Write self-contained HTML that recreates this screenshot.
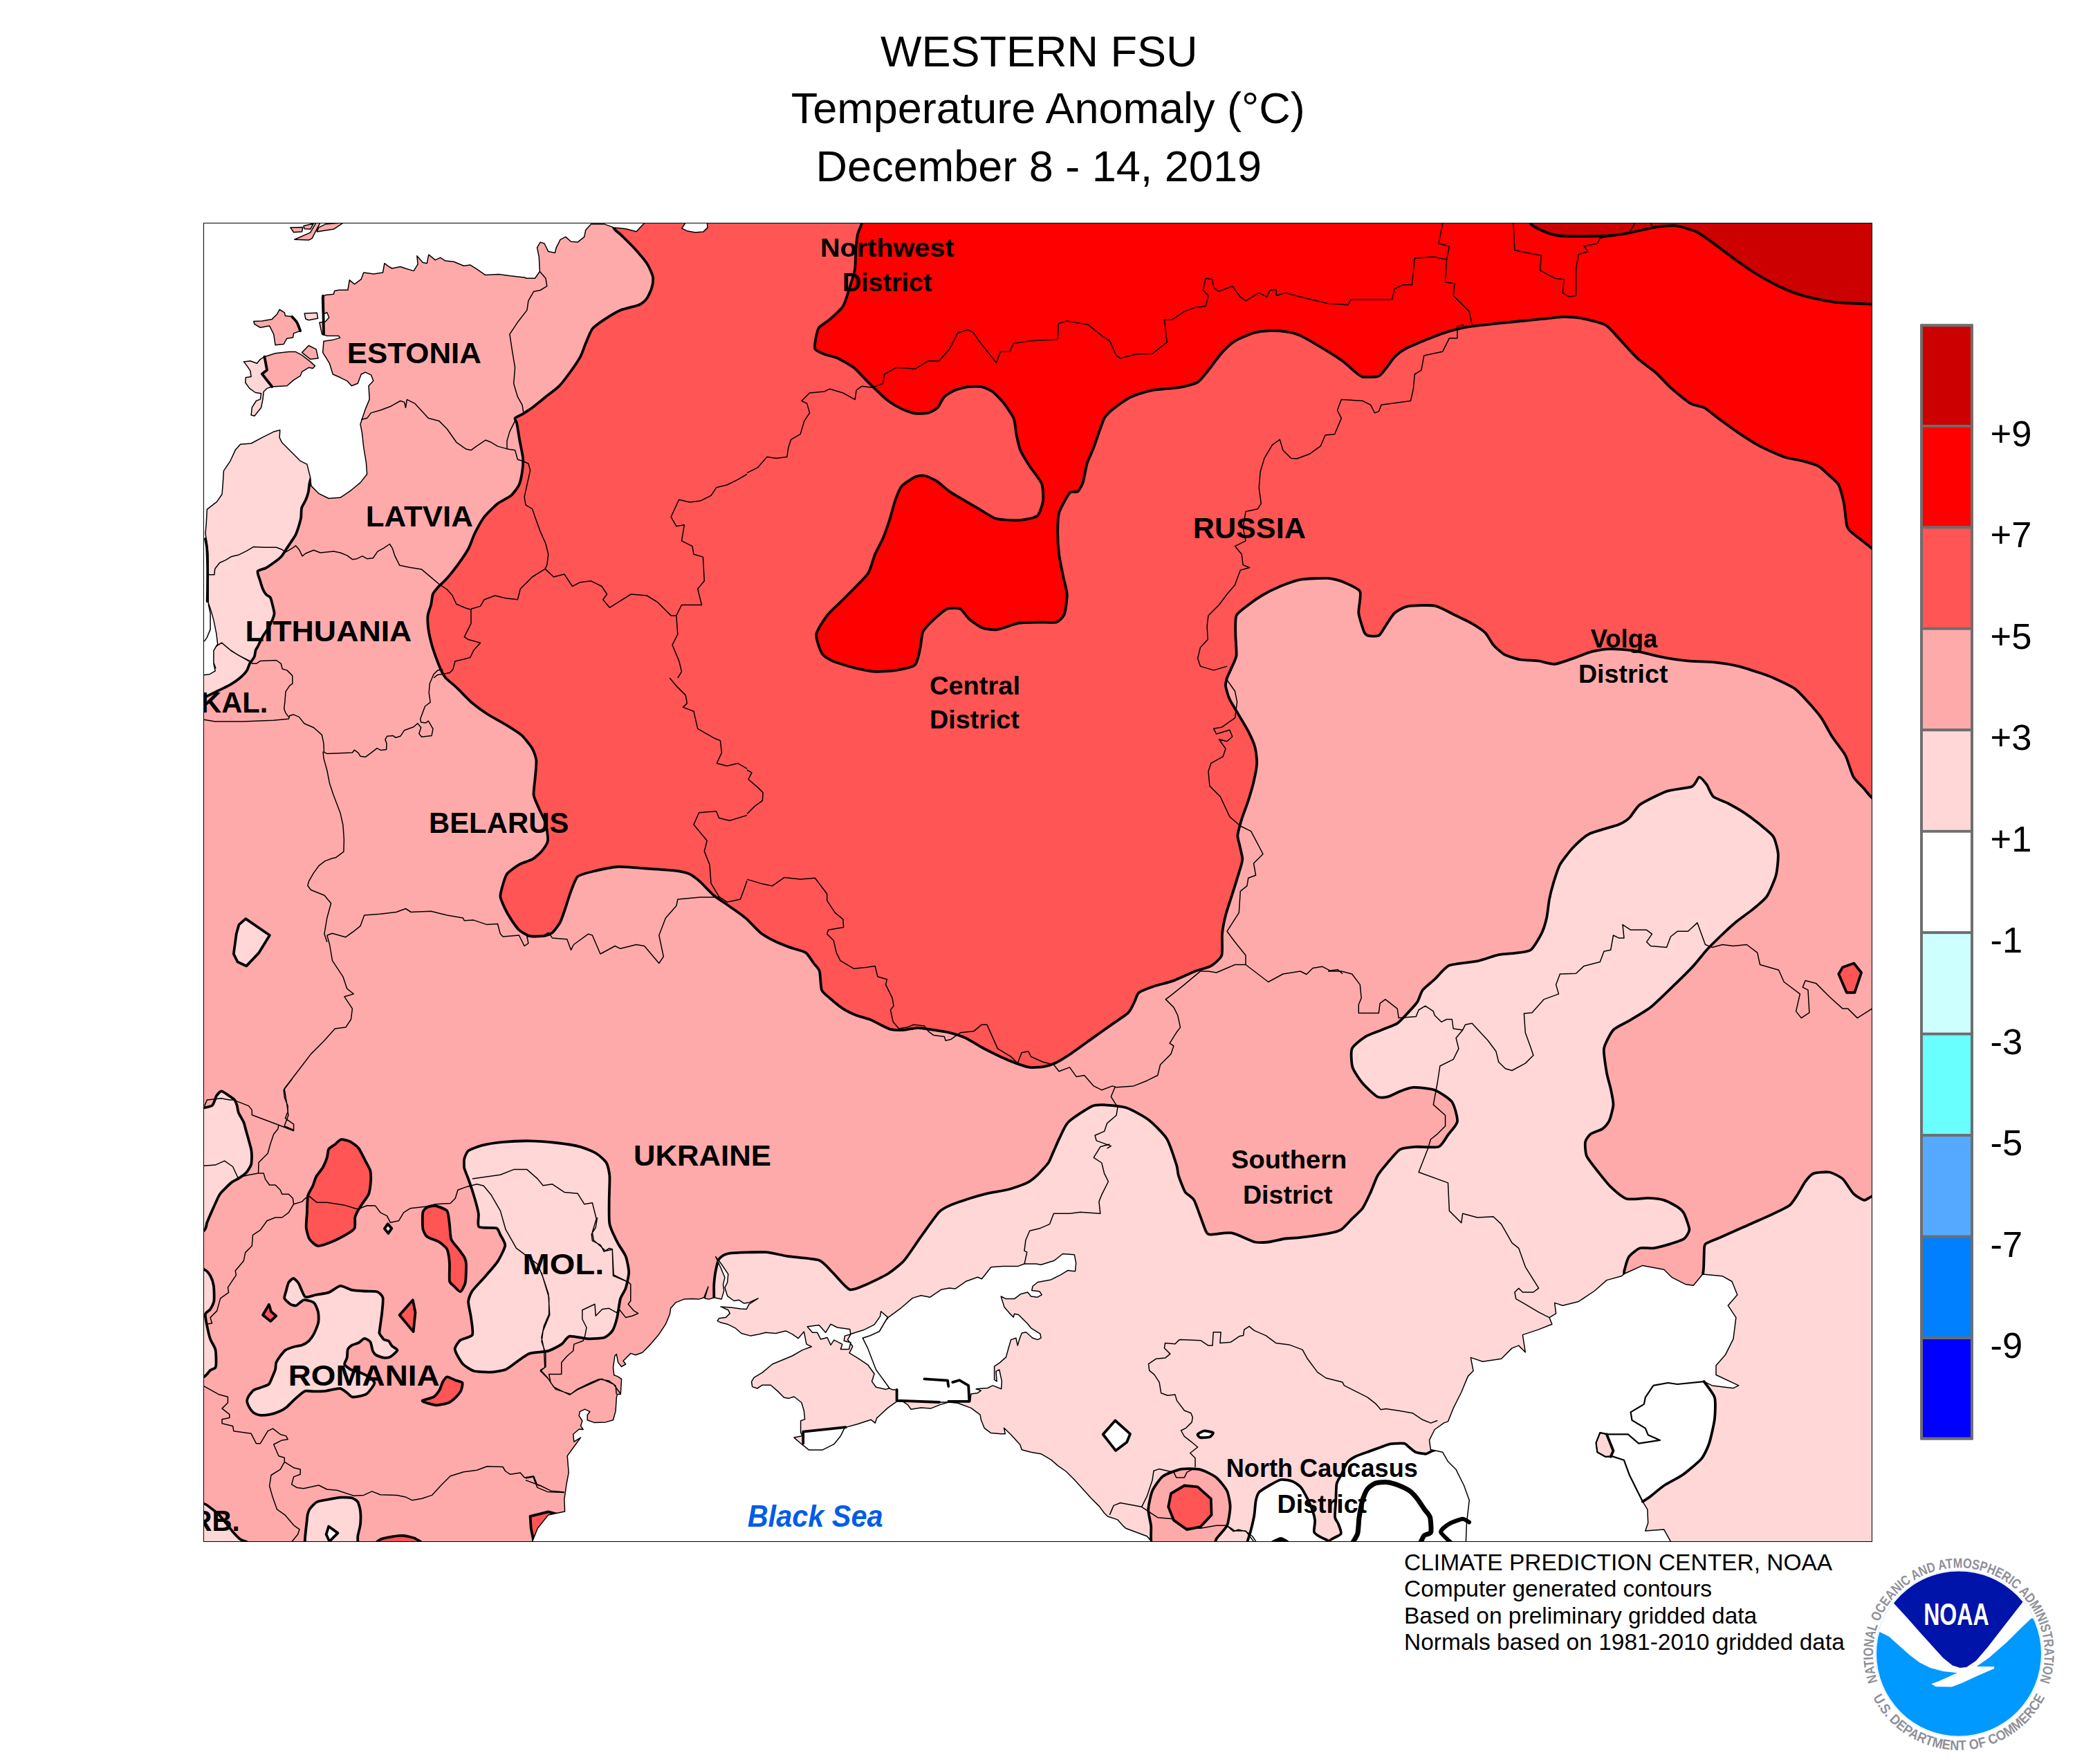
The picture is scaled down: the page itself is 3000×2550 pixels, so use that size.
<!DOCTYPE html>
<html><head><meta charset="utf-8"><title>Western FSU Temperature Anomaly</title>
<style>
html,body{margin:0;padding:0;background:#fff}
body{width:3000px;height:2550px;position:relative;overflow:hidden;font-family:"Liberation Sans",sans-serif;color:#000}
.t{position:absolute;left:0;width:3000px;text-align:center;font-size:63px;line-height:63px;white-space:nowrap}
.f{position:absolute;left:2030px;font-size:33.5px;line-height:38px;white-space:nowrap}
</style></head><body>
<svg width="3000" height="2550" viewBox="0 0 3000 2550" style="position:absolute;left:0;top:0">
<defs><clipPath id="fr"><rect x="294" y="322" width="2413" height="1907"/></clipPath></defs>
<g clip-path="url(#fr)">
<rect x="294" y="322" width="2412" height="1906" fill="#FFAAAA"/>
<path d="M881.4,292.3 C882.0,296.2 885.5,324.0 887.2,328.9 C888.9,333.8 893.8,335.5 896.9,338.6 C900.0,341.7 912.0,353.3 916.1,357.8 C920.2,362.3 932.4,376.5 935.4,381.0 C938.4,385.5 943.2,396.5 943.9,400.2 C944.6,403.9 943.3,412.4 942.4,415.7 C941.5,419.0 937.4,428.4 935.4,431.1 C933.4,433.8 928.0,438.9 923.9,440.7 C919.8,442.5 902.3,446.1 896.9,448.4 C891.5,450.7 878.0,459.0 873.7,461.9 C869.4,464.8 859.3,471.7 856.4,475.4 C853.5,479.1 848.6,492.3 846.7,496.6 C844.8,500.9 841.5,511.4 839.0,515.9 C836.5,520.4 826.9,534.5 823.6,539.0 C820.3,543.5 811.9,554.6 808.2,558.3 C804.5,562.0 793.0,570.4 788.9,573.7 C784.8,577.0 773.2,586.5 769.6,589.2 C766.0,591.9 757.7,597.2 755.0,598.8 C752.3,600.4 745.4,603.2 744.6,604.6 C743.8,606.0 746.6,609.0 747.3,612.3 C748.0,615.6 750.2,630.1 751.1,635.4 C752.0,640.7 755.7,657.5 756.1,662.4 C756.5,667.3 755.6,677.6 755.0,681.7 C754.4,685.8 752.1,697.3 750.4,701.0 C748.7,704.7 742.1,713.5 738.8,716.4 C735.5,719.3 723.6,724.7 719.5,728.0 C715.4,731.3 703.7,742.7 700.2,747.2 C696.7,751.7 689.2,765.5 686.7,770.4 C684.2,775.3 679.8,788.6 677.1,793.5 C674.4,798.4 665.0,812.1 661.7,816.6 C658.4,821.1 649.4,832.4 646.3,835.9 C643.2,839.4 635.0,846.9 632.8,849.4 C630.6,851.9 626.8,856.3 625.8,859.0 C624.8,861.7 623.9,871.2 623.1,874.5 C622.3,877.8 618.9,886.2 618.5,889.9 C618.1,893.6 618.7,904.7 619.3,909.2 C619.9,913.7 623.1,927.8 624.3,932.3 C625.5,936.8 629.3,947.5 630.8,951.6 C632.3,955.7 637.2,967.8 638.6,970.8 C640.0,973.8 641.8,977.4 644.3,980.0 C646.8,982.6 657.8,991.7 661.7,995.4 C665.6,999.1 676.5,1010.8 681.0,1014.7 C685.5,1018.6 698.8,1028.5 704.1,1032.0 C709.4,1035.5 725.8,1044.2 731.1,1047.5 C736.4,1050.8 750.1,1059.2 754.2,1062.9 C758.3,1066.6 767.3,1078.3 769.6,1082.2 C771.9,1086.1 775.0,1094.8 775.4,1099.5 C775.8,1104.2 773.9,1121.2 773.5,1126.5 C773.1,1131.8 771.0,1145.1 771.6,1149.6 C772.2,1154.1 777.5,1164.6 779.3,1168.9 C781.1,1173.2 787.5,1185.2 788.9,1190.1 C790.3,1195.0 792.6,1210.9 792.0,1215.2 C791.4,1219.5 785.5,1227.7 783.1,1230.6 C780.7,1233.5 773.1,1240.1 769.6,1242.2 C766.1,1244.3 754.3,1247.6 750.4,1249.9 C746.5,1252.2 735.5,1260.1 733.0,1263.4 C730.5,1266.7 727.5,1277.2 726.5,1280.7 C725.5,1284.2 723.1,1292.8 723.4,1296.1 C723.7,1299.4 727.6,1308.1 729.2,1311.6 C730.8,1315.1 736.5,1325.4 738.8,1328.9 C741.1,1332.4 747.5,1341.7 750.4,1344.3 C753.3,1346.9 762.1,1352.3 765.8,1353.2 C769.5,1354.1 781.6,1353.7 785.1,1353.2 C788.6,1352.7 795.9,1350.4 798.6,1348.2 C801.3,1346.0 808.1,1336.7 810.1,1332.8 C812.1,1328.9 816.2,1316.3 817.8,1311.6 C819.4,1306.9 823.6,1293.1 825.5,1288.4 C827.4,1283.7 831.7,1270.3 835.2,1267.2 C838.7,1264.1 852.1,1261.0 858.3,1259.5 C864.5,1258.0 884.8,1253.4 893.0,1253.0 C901.2,1252.6 926.8,1255.1 935.4,1255.7 C944.0,1256.3 967.4,1257.6 974.0,1258.4 C980.6,1259.2 993.0,1261.6 997.1,1263.4 C1001.2,1265.2 1008.8,1271.6 1012.5,1274.9 C1016.2,1278.2 1027.7,1290.7 1031.8,1294.2 C1035.9,1297.7 1047.0,1304.8 1051.1,1307.7 C1055.2,1310.6 1067.3,1318.9 1070.4,1321.2 C1073.5,1323.5 1076.9,1326.0 1080.0,1328.9 C1083.1,1331.8 1095.2,1344.9 1099.3,1348.2 C1103.4,1351.5 1114.1,1357.5 1118.6,1359.8 C1123.1,1362.1 1136.8,1367.6 1141.7,1369.4 C1146.6,1371.2 1161.1,1374.6 1164.8,1377.1 C1168.5,1379.6 1174.3,1389.6 1176.4,1392.5 C1178.5,1395.4 1183.7,1400.0 1184.9,1404.1 C1186.1,1408.2 1186.4,1427.0 1188.0,1431.1 C1189.6,1435.2 1196.2,1439.8 1199.5,1442.7 C1202.8,1445.6 1214.7,1455.4 1218.8,1458.1 C1222.9,1460.8 1234.0,1466.1 1238.1,1467.7 C1242.2,1469.3 1253.6,1472.1 1257.3,1473.5 C1261.0,1474.9 1269.5,1479.6 1272.8,1481.2 C1276.1,1482.8 1284.5,1487.3 1288.2,1488.1 C1291.9,1488.9 1303.4,1489.1 1307.5,1488.9 C1311.6,1488.7 1322.2,1485.8 1326.7,1485.8 C1331.2,1485.8 1345.0,1488.2 1349.9,1488.9 C1354.8,1489.6 1368.1,1491.6 1373.0,1492.8 C1377.9,1494.0 1391.2,1498.2 1396.1,1500.5 C1401.0,1502.8 1413.9,1511.1 1419.3,1514.0 C1424.7,1516.9 1441.0,1525.0 1446.3,1527.5 C1451.6,1530.0 1464.9,1535.5 1469.4,1537.1 C1473.9,1538.7 1484.6,1542.4 1488.7,1542.9 C1492.8,1543.4 1503.9,1542.8 1508.0,1542.1 C1512.1,1541.4 1522.7,1538.2 1527.2,1536.0 C1531.7,1533.8 1545.1,1525.3 1550.4,1521.7 C1555.7,1518.1 1571.6,1506.5 1577.3,1502.4 C1583.0,1498.3 1598.5,1487.2 1604.3,1483.1 C1610.1,1479.0 1627.4,1467.8 1631.3,1463.9 C1635.2,1460.0 1639.4,1449.6 1641.0,1446.5 C1642.6,1443.4 1643.6,1437.2 1646.7,1434.9 C1649.8,1432.6 1664.5,1427.1 1669.9,1425.3 C1675.3,1423.5 1690.7,1419.9 1696.9,1417.6 C1703.1,1415.3 1722.0,1406.4 1727.7,1404.1 C1733.4,1401.8 1746.7,1398.9 1750.8,1396.4 C1754.9,1393.9 1764.6,1385.9 1766.3,1381.0 C1768.0,1376.1 1766.4,1356.3 1767.0,1350.1 C1767.6,1343.9 1770.4,1329.3 1772.0,1323.1 C1773.6,1316.9 1779.6,1298.9 1781.7,1292.3 C1783.8,1285.7 1789.7,1266.7 1791.3,1261.4 C1792.9,1256.1 1796.2,1246.3 1796.3,1242.2 C1796.4,1238.1 1793.2,1226.6 1792.5,1222.9 C1791.8,1219.2 1789.1,1211.6 1789.4,1207.5 C1789.7,1203.4 1793.6,1189.7 1795.2,1184.3 C1796.8,1178.9 1803.0,1163.0 1804.8,1157.3 C1806.6,1151.6 1811.2,1136.1 1812.5,1130.4 C1813.8,1124.7 1817.0,1108.8 1817.2,1103.4 C1817.4,1098.0 1815.8,1085.1 1814.5,1080.2 C1813.2,1075.3 1807.3,1062.0 1804.8,1057.1 C1802.3,1052.2 1794.2,1038.9 1791.3,1034.0 C1788.4,1029.1 1779.9,1015.3 1777.8,1010.8 C1775.7,1006.3 1772.4,994.9 1772.0,991.6 C1771.6,988.3 1773.2,982.7 1774.0,980.1 C1774.8,977.5 1778.4,970.5 1779.8,967.0 C1781.2,963.5 1786.8,953.0 1787.5,947.7 C1788.2,942.4 1786.3,923.1 1786.3,916.9 C1786.3,910.7 1785.5,894.4 1787.5,889.9 C1789.5,885.4 1800.9,877.6 1804.8,874.5 C1808.7,871.4 1819.2,863.9 1824.1,861.0 C1829.0,858.1 1845.1,850.0 1851.1,847.5 C1857.1,845.0 1872.7,839.0 1880.0,837.8 C1887.3,836.6 1913.3,835.5 1920.0,835.9 C1926.7,836.3 1938.2,839.6 1943.1,841.7 C1948.0,843.8 1964.0,850.5 1966.3,855.2 C1968.6,859.9 1963.7,879.8 1964.3,886.0 C1964.9,892.2 1970.6,909.5 1972.0,913.0 C1973.4,916.5 1975.5,918.2 1977.8,918.8 C1980.1,919.4 1990.6,920.2 1993.3,918.8 C1996.0,917.4 2000.4,908.8 2002.9,905.3 C2005.4,901.8 2012.9,889.1 2016.4,886.0 C2019.9,882.9 2029.5,877.5 2035.7,876.4 C2041.9,875.3 2067.2,874.4 2074.2,875.6 C2081.2,876.8 2095.4,885.2 2101.2,888.0 C2107.0,890.8 2123.3,898.5 2128.2,901.4 C2133.1,904.3 2144.2,911.6 2147.5,914.9 C2150.8,918.2 2156.1,929.0 2159.0,932.3 C2161.9,935.6 2170.4,943.5 2174.5,945.8 C2178.6,948.1 2192.3,952.5 2197.6,953.5 C2202.9,954.5 2219.3,954.7 2224.6,955.4 C2229.9,956.1 2242.4,960.4 2247.7,960.0 C2253.0,959.6 2268.9,953.5 2274.7,951.6 C2280.5,949.7 2295.9,943.3 2301.7,941.9 C2307.5,940.5 2322.1,938.2 2328.7,938.1 C2335.3,938.0 2355.6,939.6 2363.4,940.8 C2371.2,942.0 2393.7,948.0 2401.9,949.6 C2410.1,951.2 2432.3,954.6 2440.5,955.4 C2448.7,956.2 2471.2,956.5 2479.0,957.3 C2486.8,958.1 2506.7,961.4 2513.7,963.1 C2520.7,964.8 2539.2,971.0 2544.6,972.8 C2550.0,974.6 2558.6,977.6 2563.9,980.0 C2569.2,982.4 2589.4,991.7 2594.7,995.4 C2600.0,999.1 2609.9,1010.2 2614.0,1014.7 C2618.1,1019.2 2629.6,1032.5 2633.3,1037.8 C2637.0,1043.1 2645.0,1059.0 2648.7,1064.8 C2652.4,1070.6 2664.7,1085.6 2668.0,1091.8 C2671.3,1098.0 2676.6,1117.6 2679.5,1122.7 C2682.4,1127.8 2692.0,1136.7 2694.9,1140.0 C2697.8,1143.3 2702.0,1149.2 2706.5,1153.5 C2711.0,1157.8 2734.0,1177.6 2737.3,1180.5 L2790.0,1200.0 L2790.0,240.0 L870.0,240.0Z" fill="#FF5555" stroke="#000" stroke-width="3.8" stroke-linejoin="round"/>
<path d="M1251.6,292.3 C1251.0,295.6 1247.0,318.2 1245.8,323.1 C1244.6,328.0 1240.9,334.5 1240.0,338.6 C1239.1,342.7 1237.7,356.4 1237.3,361.7 C1236.9,367.0 1237.0,382.9 1236.1,388.7 C1235.2,394.5 1230.2,409.9 1228.4,415.7 C1226.6,421.5 1221.9,437.8 1218.8,442.7 C1215.7,447.6 1203.2,458.6 1199.5,461.9 C1195.8,465.2 1186.2,470.6 1184.1,473.5 C1182.0,476.4 1180.1,485.6 1179.5,488.9 C1178.9,492.2 1177.0,501.8 1178.3,504.3 C1179.6,506.8 1188.3,510.6 1191.8,512.0 C1195.3,513.4 1206.6,515.7 1211.1,517.8 C1215.6,519.9 1230.1,528.2 1234.2,531.3 C1238.3,534.4 1246.3,543.4 1249.6,546.7 C1252.9,550.0 1261.4,558.7 1265.1,562.2 C1268.8,565.7 1280.2,576.4 1284.3,579.5 C1288.4,582.6 1299.5,589.2 1303.6,591.1 C1307.7,593.0 1318.8,597.0 1322.9,597.6 C1327.0,598.2 1338.7,597.8 1342.2,596.9 C1345.7,596.0 1353.2,591.7 1355.7,589.2 C1358.2,586.7 1362.6,576.4 1365.3,573.7 C1368.0,571.0 1377.0,565.7 1380.7,564.1 C1384.4,562.5 1395.9,559.6 1400.0,559.1 C1404.1,558.6 1415.6,558.4 1419.3,559.1 C1423.0,559.8 1431.4,563.6 1434.7,566.0 C1438.0,568.4 1446.8,577.3 1450.1,581.4 C1453.4,585.5 1463.4,599.7 1465.5,604.6 C1467.6,609.5 1468.4,622.8 1469.4,627.7 C1470.4,632.6 1473.1,645.9 1475.2,650.8 C1477.3,655.7 1485.4,668.9 1488.7,674.0 C1492.0,679.1 1503.9,693.7 1506.0,699.0 C1508.1,704.3 1508.6,719.2 1508.0,724.1 C1507.4,729.0 1503.1,742.4 1500.2,745.3 C1497.3,748.2 1485.1,750.4 1481.0,751.1 C1476.9,751.8 1466.2,752.1 1461.7,751.9 C1457.2,751.7 1443.5,750.9 1438.6,749.2 C1433.7,747.5 1420.3,738.6 1415.4,735.7 C1410.5,732.8 1396.8,724.9 1392.3,722.2 C1387.8,719.5 1377.1,713.5 1373.0,710.6 C1368.9,707.7 1357.6,697.7 1353.7,695.2 C1349.8,692.7 1339.7,688.1 1336.4,687.5 C1333.1,686.9 1326.4,687.8 1322.9,689.4 C1319.4,691.0 1306.7,699.2 1303.6,702.9 C1300.5,706.6 1295.8,719.0 1294.0,724.1 C1292.2,729.2 1288.2,745.3 1286.3,751.1 C1284.4,756.9 1278.9,772.8 1276.6,778.1 C1274.3,783.4 1267.4,795.9 1265.1,801.2 C1262.8,806.5 1258.7,822.9 1255.4,828.2 C1252.1,833.5 1238.5,846.8 1234.2,851.3 C1229.9,855.8 1219.0,866.5 1214.9,870.6 C1210.8,874.7 1199.4,885.0 1195.7,889.9 C1192.0,894.8 1181.0,911.1 1180.2,916.9 C1179.4,922.7 1185.5,939.8 1188.0,943.9 C1190.5,948.0 1198.5,953.1 1203.4,955.4 C1208.3,957.7 1227.6,963.5 1234.2,965.1 C1240.8,966.7 1258.5,970.4 1265.1,970.8 C1271.7,971.2 1289.7,969.9 1295.9,968.9 C1302.1,967.9 1319.2,964.7 1322.9,961.2 C1326.6,957.7 1329.4,941.2 1330.6,936.1 C1331.8,931.0 1332.4,917.3 1334.5,913.0 C1336.6,908.7 1346.2,899.2 1349.9,895.7 C1353.6,892.2 1365.1,881.9 1369.2,880.2 C1373.3,878.5 1385.1,878.8 1388.4,880.2 C1391.7,881.6 1396.7,890.8 1400.0,893.7 C1403.3,896.6 1415.0,905.4 1419.3,907.2 C1423.6,909.0 1434.7,911.0 1440.5,910.3 C1446.3,909.6 1466.5,901.9 1473.3,900.7 C1480.1,899.5 1498.4,899.6 1504.1,899.5 C1509.8,899.4 1523.5,900.7 1527.2,899.5 C1530.9,898.3 1537.1,892.3 1538.8,888.0 C1540.5,883.7 1542.9,865.0 1542.7,859.0 C1542.5,853.0 1538.1,838.2 1536.9,832.0 C1535.7,825.8 1531.9,807.8 1531.1,801.2 C1530.3,794.6 1529.2,776.8 1529.2,770.4 C1529.2,764.0 1529.3,747.6 1531.1,741.4 C1532.9,735.2 1543.6,715.8 1546.5,712.5 C1549.4,709.2 1556.0,712.2 1558.1,710.6 C1560.2,709.0 1564.4,701.4 1565.8,697.1 C1567.2,692.8 1570.0,675.4 1571.6,670.1 C1573.2,664.8 1578.5,654.0 1581.2,647.0 C1583.9,640.0 1593.3,610.8 1596.6,604.6 C1599.9,598.4 1607.9,592.5 1612.0,589.2 C1616.1,585.9 1629.4,576.4 1635.2,573.7 C1641.0,571.0 1658.6,565.5 1666.0,564.1 C1673.4,562.7 1697.6,561.4 1704.6,560.2 C1711.6,559.0 1727.1,555.2 1731.6,552.5 C1736.1,549.8 1743.3,539.7 1747.0,535.2 C1750.7,530.7 1762.2,514.6 1766.3,510.1 C1770.4,505.6 1780.6,495.9 1785.5,492.8 C1790.4,489.7 1807.1,482.8 1812.5,481.2 C1817.9,479.6 1830.8,478.3 1835.7,478.1 C1840.6,477.9 1854.1,478.6 1858.8,479.3 C1863.5,480.0 1873.5,482.0 1880.0,485.1 C1886.5,488.2 1913.3,504.1 1920.0,508.2 C1926.7,512.3 1939.0,520.5 1943.1,523.6 C1947.2,526.7 1955.7,534.8 1958.6,537.1 C1961.5,539.4 1966.4,544.1 1970.1,544.8 C1973.8,545.5 1989.6,545.1 1993.3,543.7 C1997.0,542.3 2002.3,534.3 2004.8,531.3 C2007.3,528.3 2013.5,518.8 2016.4,515.9 C2019.3,513.0 2026.9,507.0 2031.8,504.3 C2036.7,501.6 2056.1,493.5 2062.7,490.8 C2069.3,488.1 2086.5,481.3 2093.5,479.3 C2100.5,477.3 2117.9,473.1 2128.2,471.6 C2138.5,470.1 2179.2,466.1 2189.9,465.0 C2200.6,463.9 2221.0,461.9 2228.4,461.2 C2235.8,460.5 2253.1,458.2 2259.3,458.1 C2265.5,458.0 2279.7,458.8 2286.3,460.0 C2292.9,461.2 2315.3,466.5 2321.0,469.6 C2326.7,472.7 2335.3,483.8 2340.2,488.9 C2345.1,494.0 2361.4,512.5 2367.2,517.8 C2373.0,523.1 2388.9,534.3 2394.2,539.0 C2399.5,543.7 2412.0,557.5 2417.3,562.2 C2422.6,566.9 2439.4,580.5 2444.3,583.4 C2449.2,586.3 2459.1,586.7 2463.6,589.2 C2468.1,591.7 2481.4,602.6 2486.7,606.5 C2492.0,610.4 2507.5,621.7 2513.7,625.8 C2519.9,629.9 2537.6,641.4 2544.6,645.1 C2551.6,648.8 2572.7,658.2 2579.3,660.5 C2585.9,662.8 2601.0,664.9 2606.3,666.3 C2611.6,667.7 2625.3,671.7 2629.4,674.0 C2633.5,676.3 2641.7,684.6 2644.8,687.5 C2647.9,690.4 2656.0,696.7 2658.3,701.0 C2660.6,705.3 2664.8,721.8 2666.0,728.0 C2667.2,734.2 2668.9,754.5 2669.9,758.8 C2670.9,763.1 2671.8,764.8 2675.7,768.4 C2679.6,772.0 2699.9,787.6 2706.5,792.7 C2713.1,797.8 2734.0,814.1 2737.3,816.6 L2790.0,900.0 L2790.0,240.0 L1240.0,240.0Z" fill="#FF0000" stroke="#000" stroke-width="3.8" stroke-linejoin="round"/>
<path d="M2201.4,292.3 C2202.6,295.6 2210.1,318.8 2213.0,323.1 C2215.9,327.4 2224.3,330.9 2228.4,332.8 C2232.5,334.7 2245.0,339.6 2251.6,340.5 C2258.2,341.4 2281.9,341.6 2290.1,341.6 C2298.3,341.6 2321.7,341.0 2328.7,340.5 C2335.7,340.0 2349.1,337.8 2355.7,336.6 C2362.3,335.4 2383.4,330.0 2390.4,328.9 C2397.4,327.8 2414.6,325.6 2421.2,326.2 C2427.8,326.8 2446.2,332.2 2452.0,334.7 C2457.8,337.2 2469.4,346.0 2475.2,350.1 C2481.0,354.2 2499.4,368.6 2506.0,373.3 C2512.6,378.0 2529.9,390.2 2536.9,394.5 C2543.9,398.8 2564.2,410.2 2571.6,413.7 C2579.0,417.2 2597.7,424.7 2606.3,427.2 C2614.9,429.7 2641.8,435.6 2652.5,436.9 C2663.2,438.2 2696.2,439.2 2706.5,439.6 C2716.8,440.0 2744.4,440.6 2748.9,440.7 L2790.0,450.0 L2790.0,240.0 L2200.0,240.0Z" fill="#CD0000" stroke="#000" stroke-width="3.8" stroke-linejoin="round"/>
<path d="M453.5,678.6 C452.9,680.6 448.5,694.3 447.7,697.8 C446.9,701.3 446.4,708.6 445.8,711.3 C445.2,714.0 442.9,720.4 441.9,722.9 C440.9,725.4 436.8,731.8 436.1,734.5 C435.4,737.2 435.6,745.3 435.2,748.0 C434.8,750.7 433.1,756.8 432.3,759.5 C431.5,762.2 428.7,770.4 427.5,773.0 C426.3,775.6 422.2,781.2 420.7,783.6 C419.2,786.0 414.4,793.0 413.0,795.2 C411.6,797.4 409.0,801.9 407.2,803.9 C405.4,805.9 398.2,811.7 395.7,813.5 C393.2,815.3 386.6,819.9 384.1,821.2 C381.6,822.5 373.3,823.9 372.5,826.0 C371.7,828.1 375.6,837.7 376.4,840.5 C377.2,843.3 379.3,849.9 380.2,852.0 C381.1,854.1 384.0,858.6 385.1,859.8 C386.2,861.0 389.9,862.2 390.8,863.6 C391.7,865.0 393.1,870.8 393.7,873.3 C394.3,875.8 396.6,884.2 396.6,886.7 C396.6,889.2 394.6,894.1 393.7,896.4 C392.8,898.7 389.4,905.5 388.0,908.0 C386.6,910.5 381.9,916.6 380.2,919.5 C378.5,922.4 373.6,932.7 372.5,934.9 C371.4,937.1 370.1,938.4 369.6,940.0 C369.1,941.6 368.6,947.5 367.7,949.6 C366.8,951.7 362.1,957.2 361.0,959.3 C359.9,961.4 358.5,966.7 357.1,968.9 C355.7,971.1 350.0,977.3 347.5,979.5 C345.0,981.7 337.1,987.3 334.0,989.2 C330.9,991.1 321.7,995.4 318.6,996.9 C315.5,998.4 307.7,1002.4 305.1,1003.6 C302.5,1004.8 299.2,1006.5 294.5,1008.4 C289.8,1010.3 264.3,1019.7 260.7,1021.0 L240.0,1010.0 L240.0,590.0 L430.0,590.0 L475.0,650.0Z" fill="#FFD7D7" stroke="#000" stroke-width="3.8" stroke-linejoin="round"/>
<path d="M1032.3,1875.7 C1032.3,1873.6 1032.0,1860.5 1032.3,1856.4 C1032.6,1852.3 1033.9,1841.0 1034.7,1837.1 C1035.5,1833.2 1037.4,1822.9 1039.5,1820.2 C1041.6,1817.5 1046.8,1812.9 1054.0,1811.8 C1061.2,1810.7 1098.1,1809.7 1107.0,1810.1 C1115.9,1810.5 1129.6,1814.7 1137.8,1815.9 C1146.0,1817.1 1177.1,1819.2 1184.1,1821.7 C1191.1,1824.2 1198.7,1834.5 1203.4,1839.0 C1208.1,1843.5 1223.1,1862.2 1228.4,1864.1 C1233.7,1866.0 1247.5,1858.9 1253.5,1856.4 C1259.5,1853.9 1278.5,1844.7 1284.3,1841.0 C1290.1,1837.3 1302.6,1827.3 1307.5,1821.7 C1312.4,1816.1 1325.3,1796.3 1330.6,1788.9 C1335.9,1781.5 1353.1,1757.2 1357.6,1752.3 C1362.1,1747.4 1368.5,1744.8 1373.0,1742.7 C1377.5,1740.6 1394.2,1734.9 1400.0,1733.0 C1405.8,1731.1 1420.8,1726.7 1427.0,1725.3 C1433.2,1723.9 1451.6,1721.1 1457.8,1719.5 C1464.0,1717.9 1480.3,1712.2 1484.8,1709.9 C1489.3,1707.6 1496.9,1701.4 1500.2,1698.3 C1503.5,1695.2 1513.6,1683.9 1515.7,1681.0 C1517.8,1678.1 1518.6,1675.0 1520.3,1671.3 C1522.0,1667.6 1528.9,1651.2 1531.5,1645.9 C1534.1,1640.6 1539.6,1627.0 1544.6,1622.0 C1549.6,1617.0 1572.8,1601.8 1578.5,1599.2 C1584.2,1596.6 1592.4,1597.1 1597.8,1597.3 C1603.2,1597.5 1622.3,1599.2 1629.0,1601.5 C1635.7,1603.8 1654.0,1613.8 1660.2,1618.5 C1666.4,1623.2 1682.4,1638.9 1686.8,1645.9 C1691.2,1652.9 1699.3,1678.7 1701.1,1684.4 C1702.9,1690.1 1702.5,1695.0 1703.8,1699.1 C1705.1,1703.2 1711.0,1719.1 1713.4,1723.0 C1715.8,1726.9 1723.5,1729.5 1726.6,1735.3 C1729.7,1741.1 1740.0,1772.0 1742.4,1777.3 C1744.8,1782.6 1745.2,1784.2 1749.3,1784.7 C1753.4,1785.2 1773.9,1781.2 1780.9,1782.4 C1787.9,1783.6 1808.9,1794.1 1814.5,1795.5 C1820.1,1796.9 1829.1,1796.0 1833.7,1795.5 C1838.3,1795.0 1853.1,1791.2 1858.0,1790.5 C1862.9,1789.8 1873.4,1789.7 1880.0,1788.9 C1886.6,1788.1 1913.7,1784.3 1920.0,1783.1 C1926.3,1781.9 1935.6,1779.6 1939.3,1777.3 C1943.0,1775.0 1951.4,1765.2 1954.7,1761.9 C1958.0,1758.6 1967.2,1750.6 1970.1,1746.5 C1973.0,1742.4 1979.4,1728.3 1981.7,1723.4 C1984.0,1718.5 1989.0,1704.3 1991.3,1700.2 C1993.6,1696.1 1999.4,1688.9 2002.9,1684.8 C2006.4,1680.7 2019.4,1664.6 2024.1,1661.7 C2028.8,1658.8 2041.2,1658.2 2047.2,1657.8 C2053.2,1657.4 2075.1,1659.6 2080.0,1657.8 C2084.9,1656.0 2090.6,1644.4 2093.5,1640.5 C2096.4,1636.6 2106.4,1626.3 2107.0,1621.2 C2107.6,1616.1 2102.8,1597.9 2099.3,1593.0 C2095.8,1588.1 2080.2,1578.0 2074.2,1575.7 C2068.2,1573.4 2048.7,1571.6 2043.4,1571.8 C2038.1,1572.0 2028.0,1576.2 2024.1,1577.6 C2020.2,1579.0 2010.2,1584.5 2006.7,1585.3 C2003.2,1586.1 1995.2,1587.4 1991.3,1585.3 C1987.4,1583.2 1973.9,1570.5 1970.1,1566.0 C1966.3,1561.5 1957.1,1548.2 1955.5,1542.9 C1953.9,1537.6 1952.7,1520.6 1954.7,1515.9 C1956.7,1511.2 1969.5,1501.5 1974.0,1498.6 C1978.5,1495.7 1992.2,1491.0 1997.1,1488.9 C2002.0,1486.8 2016.1,1482.0 2020.2,1479.3 C2024.3,1476.6 2032.6,1467.2 2035.7,1463.9 C2038.8,1460.6 2046.9,1451.9 2049.2,1448.4 C2051.5,1444.9 2054.2,1434.6 2056.9,1431.1 C2059.6,1427.6 2070.1,1419.5 2074.2,1415.7 C2078.3,1411.9 2088.8,1398.4 2095.4,1395.6 C2102.0,1392.8 2128.3,1391.0 2135.9,1389.4 C2143.5,1387.8 2160.9,1381.4 2166.7,1380.2 C2172.5,1379.0 2185.0,1378.6 2189.9,1377.9 C2194.8,1377.2 2208.9,1376.3 2213.0,1373.3 C2217.1,1370.3 2225.9,1355.0 2228.4,1350.1 C2230.9,1345.2 2234.9,1332.3 2236.1,1327.0 C2237.3,1321.7 2239.0,1305.3 2240.0,1300.0 C2241.0,1294.7 2244.2,1282.2 2245.8,1276.9 C2247.4,1271.6 2252.3,1255.5 2255.4,1249.9 C2258.5,1244.3 2270.2,1229.5 2274.7,1224.8 C2279.2,1220.1 2290.8,1209.0 2297.8,1205.5 C2304.8,1202.0 2334.0,1194.5 2340.2,1192.0 C2346.4,1189.5 2352.4,1185.5 2355.7,1182.4 C2359.0,1179.3 2365.4,1167.2 2371.1,1163.1 C2376.8,1159.0 2401.6,1146.7 2409.6,1143.9 C2417.6,1141.1 2441.3,1139.1 2446.3,1136.9 C2451.3,1134.7 2454.4,1123.7 2456.7,1123.4 C2459.0,1123.1 2465.3,1131.2 2467.5,1134.2 C2469.7,1137.2 2473.8,1148.7 2477.1,1151.6 C2480.4,1154.5 2493.6,1158.7 2498.3,1161.2 C2503.0,1163.7 2516.5,1171.4 2521.4,1174.7 C2526.3,1178.0 2540.1,1188.3 2544.6,1192.0 C2549.1,1195.7 2561.1,1204.9 2563.9,1209.4 C2566.7,1213.9 2570.4,1228.5 2570.8,1234.5 C2571.2,1240.5 2569.5,1258.7 2567.7,1265.3 C2565.9,1271.9 2557.9,1290.8 2554.2,1296.1 C2550.5,1301.4 2537.7,1311.5 2533.0,1315.4 C2528.3,1319.3 2514.8,1328.7 2509.9,1332.8 C2505.0,1336.9 2491.2,1349.7 2486.7,1354.0 C2482.2,1358.3 2471.6,1368.8 2467.5,1373.3 C2463.4,1377.8 2453.1,1391.1 2448.2,1396.4 C2443.3,1401.7 2427.8,1417.0 2421.2,1423.4 C2414.6,1429.8 2393.5,1450.6 2386.5,1456.1 C2379.5,1461.6 2361.5,1471.9 2355.7,1475.4 C2349.9,1478.9 2336.4,1484.6 2332.5,1488.9 C2328.6,1493.2 2320.0,1509.3 2319.0,1515.9 C2318.0,1522.5 2321.9,1544.4 2322.9,1550.6 C2323.9,1556.8 2327.7,1568.8 2328.7,1573.7 C2329.7,1578.6 2332.7,1592.0 2332.5,1596.9 C2332.3,1601.8 2328.3,1616.3 2326.7,1620.0 C2325.1,1623.7 2320.0,1629.5 2317.1,1631.6 C2314.2,1633.7 2302.5,1637.3 2299.8,1639.3 C2297.1,1641.3 2292.6,1647.4 2292.0,1650.8 C2291.4,1654.2 2292.1,1666.9 2294.0,1671.3 C2295.9,1675.7 2305.7,1687.8 2309.4,1692.5 C2313.1,1697.2 2324.2,1711.4 2328.7,1715.7 C2333.2,1720.0 2346.0,1731.3 2351.8,1733.0 C2357.6,1734.7 2376.9,1731.7 2382.7,1731.9 C2388.5,1732.1 2401.3,1733.5 2405.8,1734.9 C2410.3,1736.3 2422.0,1742.5 2425.1,1744.6 C2428.2,1746.7 2432.9,1750.7 2434.7,1754.2 C2436.5,1757.7 2442.4,1773.4 2442.4,1777.3 C2442.4,1781.2 2437.8,1788.5 2434.7,1790.8 C2431.6,1793.1 2418.2,1797.2 2413.5,1798.6 C2408.8,1800.0 2394.9,1803.7 2390.4,1804.3 C2385.9,1804.9 2374.8,1803.1 2371.1,1804.3 C2367.4,1805.5 2358.0,1813.0 2355.7,1815.9 C2353.4,1818.8 2350.6,1828.0 2349.9,1831.3 C2349.2,1834.6 2346.4,1838.5 2349.1,1846.7 C2351.8,1854.9 2366.0,1901.8 2374.9,1908.4 C2383.8,1915.0 2423.6,1915.0 2432.8,1908.4 C2442.0,1901.8 2457.6,1856.6 2460.9,1846.7 C2464.2,1836.8 2463.1,1821.0 2463.6,1815.9 C2464.1,1810.8 2463.0,1801.5 2465.5,1798.6 C2468.0,1795.7 2480.7,1791.6 2486.7,1788.9 C2492.7,1786.2 2514.0,1776.8 2521.4,1773.5 C2528.8,1770.2 2549.1,1761.4 2556.1,1758.1 C2563.1,1754.8 2582.5,1746.0 2587.0,1742.7 C2591.5,1739.4 2596.1,1730.9 2598.6,1727.2 C2601.1,1723.5 2607.6,1711.3 2610.1,1708.0 C2612.6,1704.7 2618.0,1697.8 2621.7,1696.4 C2625.4,1695.0 2640.3,1693.7 2644.8,1694.5 C2649.3,1695.3 2660.4,1700.8 2664.1,1704.1 C2667.8,1707.4 2676.2,1722.0 2679.5,1725.3 C2682.8,1728.6 2692.0,1734.5 2694.9,1734.9 C2697.8,1735.3 2700.7,1732.1 2706.5,1729.2 C2712.3,1726.3 2744.4,1710.3 2748.9,1708.0 L2790.0,1900.0 L2790.0,2290.0 L1000.0,2290.0 L1001.0,1928.7 L1027.5,1890.1Z" fill="#FFD7D7" stroke="#000" stroke-width="3.8" stroke-linejoin="round"/>
<path d="M265.7,1604.3 C268.8,1604.0 290.2,1602.1 294.6,1601.4 C299.0,1600.7 305.2,1599.4 307.2,1597.6 C309.2,1595.8 311.6,1586.3 313.0,1584.1 C314.4,1581.9 318.2,1577.3 320.2,1577.3 C322.2,1577.3 329.3,1582.8 331.3,1584.1 C333.3,1585.4 337.8,1588.4 339.0,1589.9 C340.2,1591.4 342.2,1596.6 342.8,1598.6 C343.4,1600.6 343.8,1605.6 344.8,1608.2 C345.8,1610.8 351.4,1620.0 352.5,1622.7 C353.6,1625.4 354.7,1630.7 355.4,1633.3 C356.1,1635.9 358.4,1643.7 359.2,1646.7 C360.0,1649.7 362.6,1658.6 363.1,1661.2 C363.6,1663.8 364.0,1668.4 364.0,1670.8 C364.0,1673.2 363.9,1680.8 363.1,1683.4 C362.3,1686.0 358.3,1692.7 356.3,1694.9 C354.3,1697.1 347.0,1702.2 344.8,1703.6 C342.6,1705.0 338.0,1707.1 336.1,1708.4 C334.2,1709.7 329.1,1714.4 327.4,1716.1 C325.7,1717.8 320.9,1722.4 319.7,1723.9 C318.5,1725.4 317.2,1727.2 315.8,1730.0 C314.4,1732.8 308.3,1746.4 306.5,1750.4 C304.7,1754.4 300.6,1764.1 299.3,1767.2 C298.0,1770.3 299.1,1775.7 294.5,1779.3 C289.9,1782.9 260.0,1798.7 255.9,1801.0 L240.0,1800.0 L240.0,1600.0Z" fill="#FFD7D7" stroke="#000" stroke-width="3.8" stroke-linejoin="round"/>
<path d="M255.9,1825.1 C260.0,1826.1 289.4,1832.7 294.5,1834.7 C299.6,1836.7 302.6,1841.7 304.1,1844.3 C305.6,1846.9 308.3,1854.9 308.9,1858.8 C309.5,1862.7 309.9,1876.9 309.4,1880.5 C308.9,1884.1 305.4,1890.4 304.1,1892.5 C302.8,1894.6 297.4,1897.2 296.9,1899.8 C296.4,1902.4 298.5,1912.7 299.3,1916.6 C300.1,1920.5 302.8,1932.3 304.1,1935.9 C305.4,1939.5 310.4,1946.8 311.3,1950.4 C312.2,1954.0 312.5,1966.8 312.5,1969.6 C312.5,1972.4 312.2,1975.9 311.3,1977.1 C310.4,1978.3 305.9,1979.3 304.1,1980.7 C302.3,1982.1 299.6,1988.2 294.5,1990.4 C289.4,1992.6 260.0,2000.0 255.9,2001.2 L240.0,2000.0 L240.0,1820.0Z" fill="#FFD7D7" stroke="#000" stroke-width="3.8" stroke-linejoin="round"/>
<path d="M255.9,2165.1 C260.0,2166.0 289.4,2172.0 294.5,2173.5 C299.6,2175.0 301.8,2177.8 304.1,2179.5 C306.4,2181.2 313.5,2186.6 316.1,2189.2 C318.7,2191.8 325.9,2200.8 328.2,2203.6 C330.5,2206.4 335.7,2213.4 337.8,2215.7 C339.9,2218.0 345.2,2223.7 347.5,2225.3 C349.8,2226.9 357.5,2228.8 359.5,2230.6 C361.5,2232.4 365.9,2241.0 366.7,2242.2 L360.0,2290.0 L240.0,2290.0 L240.0,2160.0Z" fill="#FFD7D7" stroke="#000" stroke-width="3.8" stroke-linejoin="round"/>
<path d="M355.2,1328.1 L389.9,1352.0 L374.5,1377.1 L356.3,1396.4 L343.6,1390.6 L337.8,1379.0 L341.7,1350.1 L345.5,1336.6Z" fill="#FFD7D7" stroke="#000" stroke-width="3.8" stroke-linejoin="round"/>
<path d="M671.3,1675.2 C671.9,1672.5 674.4,1665.7 677.1,1663.6 C679.8,1661.5 691.1,1657.3 696.4,1655.9 C701.7,1654.5 719.8,1651.6 727.2,1650.9 C734.6,1650.2 757.6,1649.2 765.8,1649.3 C774.0,1649.4 796.5,1651.1 804.3,1652.0 C812.1,1652.9 832.8,1656.1 839.0,1657.8 C845.2,1659.5 858.2,1665.0 862.2,1667.5 C866.2,1670.0 874.8,1677.5 876.8,1681.0 C878.8,1684.5 881.0,1694.5 881.4,1700.2 C881.8,1705.9 880.7,1727.5 880.7,1734.9 C880.7,1742.3 880.1,1763.0 881.4,1769.6 C882.7,1776.2 890.5,1791.7 893.0,1796.6 C895.5,1801.5 902.9,1811.4 904.6,1815.9 C906.3,1820.4 909.2,1834.1 909.2,1839.0 C909.2,1843.9 905.9,1858.1 904.6,1862.2 C903.3,1866.3 898.2,1873.1 896.9,1877.6 C895.6,1882.1 893.4,1899.7 892.2,1904.6 C891.0,1909.5 887.3,1920.8 885.3,1923.9 C883.3,1927.0 877.4,1932.3 873.7,1933.5 C870.0,1934.7 855.9,1935.6 850.6,1935.4 C845.3,1935.2 827.7,1930.8 823.6,1931.6 C819.5,1932.4 815.3,1940.8 812.0,1943.1 C808.7,1945.4 797.7,1951.4 792.8,1952.8 C787.9,1954.2 770.3,1955.2 765.8,1956.6 C761.3,1958.0 754.1,1963.8 750.4,1966.3 C746.7,1968.8 735.6,1978.0 731.1,1979.8 C726.6,1981.6 712.9,1983.4 708.0,1983.6 C703.1,1983.8 688.9,1982.9 684.8,1981.7 C680.7,1980.5 672.1,1974.7 669.4,1972.0 C666.7,1969.3 661.0,1959.1 659.8,1956.6 C658.6,1954.1 657.2,1951.0 657.8,1948.9 C658.4,1946.8 662.8,1939.4 665.5,1937.3 C668.2,1935.2 681.2,1933.1 682.9,1929.6 C684.6,1926.1 681.6,1909.7 681.0,1904.6 C680.4,1899.5 676.9,1885.5 677.1,1881.4 C677.3,1877.3 680.4,1869.7 682.9,1866.0 C685.4,1862.3 696.3,1851.2 700.2,1846.7 C704.1,1842.2 716.3,1828.5 719.5,1823.6 C722.7,1818.7 729.9,1804.6 730.3,1800.5 C730.7,1796.4 724.8,1787.8 723.4,1785.1 C722.0,1782.4 720.9,1776.6 717.6,1775.4 C714.3,1774.2 695.3,1775.8 692.5,1773.5 C689.7,1771.2 692.6,1759.1 691.8,1754.2 C691.0,1749.3 686.4,1732.5 684.8,1727.2 C683.2,1721.9 678.5,1708.2 677.1,1704.1 C675.7,1700.0 671.9,1691.8 671.3,1688.7 C670.7,1685.6 670.7,1677.9 671.3,1675.2Z" fill="#FFD7D7" stroke="#000" stroke-width="3.8" stroke-linejoin="round"/>
<path d="M424.1,1848.0 C425.6,1848.1 430.0,1852.4 431.8,1855.2 C433.6,1858.0 438.4,1872.7 441.0,1874.5 C443.6,1876.3 452.3,1872.7 455.9,1872.0 C459.5,1871.3 471.3,1869.8 475.2,1868.4 C479.1,1867.0 488.4,1859.2 492.0,1858.8 C495.6,1858.4 505.0,1864.0 508.9,1864.8 C512.8,1865.6 524.3,1866.2 528.2,1866.5 C532.1,1866.8 542.4,1866.2 545.1,1867.2 C547.8,1868.2 552.7,1872.5 553.5,1875.7 C554.3,1878.9 552.8,1892.2 552.3,1897.3 C551.8,1902.4 549.1,1920.7 548.7,1923.9 C548.3,1927.1 548.1,1926.4 548.7,1927.7 C549.3,1929.0 553.3,1934.9 554.7,1936.1 C556.1,1937.3 560.6,1937.6 561.9,1938.6 C563.2,1939.6 565.4,1944.4 566.7,1945.8 C568.0,1947.2 574.8,1950.1 574.5,1951.8 C574.2,1953.5 566.4,1960.2 564.3,1961.4 C562.2,1962.6 556.9,1963.0 554.7,1962.7 C552.5,1962.4 545.6,1960.0 543.9,1959.0 C542.2,1958.0 539.9,1955.0 539.0,1953.0 C538.1,1951.0 536.7,1941.7 535.4,1939.8 C534.1,1937.9 528.8,1934.8 527.0,1934.9 C525.2,1935.0 520.5,1940.0 518.6,1941.0 C516.7,1942.0 510.6,1943.6 508.9,1944.6 C507.2,1945.6 503.7,1948.7 502.9,1950.6 C502.1,1952.5 502.2,1960.4 501.7,1962.7 C501.2,1965.0 497.6,1970.5 498.1,1972.3 C498.6,1974.1 504.1,1978.2 506.5,1979.5 C508.9,1980.8 517.9,1983.0 521.0,1984.3 C524.1,1985.6 533.2,1990.1 535.4,1991.6 C537.6,1993.1 541.1,1997.3 541.4,1998.8 C541.7,2000.3 539.0,2004.3 537.8,2006.0 C536.6,2007.7 532.4,2013.2 530.6,2014.5 C528.8,2015.8 523.3,2017.6 521.0,2018.1 C518.7,2018.6 511.0,2019.8 508.9,2019.3 C506.8,2018.8 503.5,2014.6 501.7,2013.3 C499.9,2012.0 494.1,2007.7 492.0,2007.2 C489.9,2006.7 484.7,2008.0 482.4,2008.4 C480.1,2008.8 473.5,2010.5 470.4,2010.8 C467.3,2011.1 456.6,2011.3 453.5,2011.3 C450.4,2011.3 443.5,2010.3 441.4,2010.8 C439.3,2011.3 436.0,2014.3 434.2,2015.7 C432.4,2017.1 426.7,2022.2 424.6,2024.1 C422.5,2026.0 417.0,2032.0 414.9,2033.7 C412.8,2035.4 407.9,2038.6 405.3,2039.8 C402.7,2041.0 393.9,2044.0 390.8,2044.6 C387.7,2045.2 379.0,2046.1 376.4,2045.8 C373.8,2045.5 368.4,2043.4 366.7,2042.2 C365.0,2041.0 361.7,2036.7 360.7,2034.9 C359.7,2033.1 357.2,2027.1 357.1,2025.3 C357.0,2023.5 358.5,2019.8 359.5,2018.1 C360.5,2016.4 364.9,2010.9 366.7,2009.6 C368.5,2008.3 374.1,2006.9 376.4,2006.0 C378.7,2005.1 386.6,2002.7 388.4,2001.2 C390.2,1999.7 392.3,1993.9 393.3,1991.6 C394.3,1989.3 397.5,1981.8 398.1,1979.5 C398.7,1977.2 398.5,1972.0 399.3,1969.9 C400.1,1967.8 403.9,1962.1 405.3,1960.2 C406.7,1958.3 410.4,1953.2 412.5,1951.8 C414.6,1950.4 422.0,1947.8 424.6,1947.0 C427.2,1946.2 434.3,1945.5 436.6,1944.6 C438.9,1943.7 444.5,1940.3 446.3,1938.6 C448.1,1936.9 452.1,1931.5 453.5,1928.9 C454.9,1926.3 458.7,1916.8 459.5,1914.5 C460.3,1912.2 460.7,1909.1 460.7,1907.0 C460.7,1904.9 460.3,1897.5 459.5,1894.9 C458.7,1892.3 455.7,1884.6 453.5,1882.9 C451.3,1881.2 441.7,1878.8 439.0,1879.3 C436.3,1879.8 430.2,1886.6 428.2,1887.2 C426.2,1887.8 421.6,1886.4 419.8,1885.3 C418.0,1884.2 412.0,1879.0 411.3,1876.9 C410.6,1874.8 413.1,1868.4 413.7,1866.0 C414.3,1863.6 416.2,1855.9 417.3,1854.0 C418.4,1852.1 422.6,1847.9 424.1,1848.0Z" fill="#FFD7D7" stroke="#000" stroke-width="3.8" stroke-linejoin="round"/>
<path d="M443.9,2249.4 C436.6,2243.7 443.5,2203.6 443.9,2196.4 C444.3,2189.2 446.0,2184.6 447.5,2181.9 C449.0,2179.2 455.3,2172.6 458.3,2171.1 C461.3,2169.6 471.6,2168.2 475.2,2167.5 C478.8,2166.8 488.4,2164.8 492.0,2164.6 C495.6,2164.4 506.2,2164.8 508.9,2165.5 C511.6,2166.2 516.0,2169.1 517.3,2171.1 C518.6,2173.1 520.6,2180.8 521.0,2184.3 C521.4,2187.8 521.4,2199.7 521.0,2203.6 C520.6,2207.5 518.2,2215.6 517.3,2220.5 C516.4,2225.4 520.3,2246.3 512.5,2249.4 C504.7,2252.5 451.2,2255.1 443.9,2249.4Z" fill="#FFD7D7" stroke="#000" stroke-width="3.8" stroke-linejoin="round"/>
<path d="M1801.2,2241.4 C1787.6,2240.0 1802.8,2231.3 1803.6,2228.2 C1804.4,2225.1 1807.4,2216.5 1808.4,2212.5 C1809.4,2208.5 1812.5,2195.4 1813.3,2190.8 C1814.1,2186.2 1814.9,2172.8 1815.7,2169.2 C1816.5,2165.6 1818.5,2159.4 1820.5,2157.1 C1822.5,2154.8 1831.6,2149.4 1834.9,2147.5 C1838.2,2145.6 1848.2,2139.7 1851.8,2139.0 C1855.4,2138.3 1865.6,2140.2 1868.7,2141.4 C1871.8,2142.6 1878.4,2147.2 1880.7,2149.9 C1883.0,2152.6 1888.6,2163.1 1890.4,2166.7 C1892.2,2170.3 1896.4,2180.3 1897.6,2183.6 C1898.8,2186.9 1900.9,2194.8 1901.2,2198.1 C1901.5,2201.4 1899.1,2212.3 1900.0,2214.9 C1900.9,2217.5 1907.3,2220.8 1909.6,2222.2 C1911.9,2223.6 1919.4,2226.2 1921.7,2228.2 C1924.0,2230.2 1944.2,2240.0 1931.3,2241.4 C1918.4,2242.8 1814.8,2242.8 1801.2,2241.4Z" fill="#FFFFFF" stroke="#000" stroke-width="3.8" stroke-linejoin="round"/>
<path d="M1941.0,2241.4 C1918.4,2240.0 1922.0,2230.8 1921.7,2228.2 C1921.4,2225.6 1937.2,2220.0 1938.6,2217.3 C1940.0,2214.6 1935.8,2205.5 1934.9,2202.9 C1934.0,2200.3 1930.5,2196.9 1930.1,2193.3 C1929.7,2189.7 1931.0,2174.3 1931.3,2169.2 C1931.6,2164.1 1931.7,2149.0 1932.5,2145.1 C1933.3,2141.2 1936.9,2136.3 1938.6,2133.0 C1940.3,2129.7 1945.9,2116.7 1948.2,2113.7 C1950.5,2110.7 1956.9,2107.0 1960.2,2105.3 C1963.5,2103.6 1975.6,2099.5 1979.5,2098.1 C1983.4,2096.7 1993.1,2093.2 1996.4,2092.0 C1999.7,2090.8 2007.2,2087.8 2010.8,2087.2 C2014.4,2086.6 2027.3,2086.2 2030.1,2086.7 C2032.9,2087.2 2035.5,2090.7 2037.3,2092.0 C2039.1,2093.3 2044.4,2098.3 2047.0,2099.3 C2049.6,2100.3 2058.7,2102.0 2061.4,2101.7 C2064.1,2101.4 2069.7,2097.4 2072.3,2096.9 C2074.9,2096.4 2079.0,2094.3 2085.5,2096.9 C2092.0,2099.5 2128.6,2105.6 2133.7,2121.0 C2138.8,2136.4 2154.3,2228.6 2133.7,2241.4 C2113.1,2254.2 1963.6,2242.8 1941.0,2241.4Z" fill="#FFFFFF" stroke="#000" stroke-width="3.8" stroke-linejoin="round"/>
<path d="M1708.4,2123.6 C1714.2,2122.6 1730.0,2123.0 1735.4,2124.3 C1740.8,2125.6 1754.5,2132.6 1758.6,2135.9 C1762.7,2139.2 1771.9,2150.7 1774.0,2155.2 C1776.1,2159.7 1778.6,2173.0 1778.6,2178.3 C1778.6,2183.6 1776.1,2200.4 1774.0,2205.3 C1771.9,2210.2 1761.5,2220.1 1758.6,2224.6 C1755.7,2229.1 1756.5,2245.2 1747.0,2247.7 C1737.5,2250.2 1678.7,2252.2 1669.9,2247.7 C1661.1,2243.2 1665.1,2212.3 1664.1,2205.3 C1663.1,2198.3 1660.0,2187.5 1660.2,2182.2 C1660.4,2176.9 1663.7,2160.3 1666.0,2155.2 C1668.3,2150.1 1676.9,2137.4 1681.4,2134.0 C1685.9,2130.6 1702.6,2124.6 1708.4,2123.6Z" fill="#FFAAAA" stroke="#000" stroke-width="3.8" stroke-linejoin="round"/>
<path d="M1712.3,2147.5 L1731.6,2149.4 L1750.8,2166.7 L1751.6,2189.9 L1735.4,2207.2 L1716.1,2211.1 L1696.9,2197.6 L1689.2,2178.3 L1693.0,2159.0Z" fill="#FF5555" stroke="#000" stroke-width="3.8" stroke-linejoin="round"/>
<path d="M1612.3,2053.5 L1634.0,2072.8 L1629.2,2084.8 L1613.0,2096.9 L1594.7,2073.5Z" fill="#FFFFFF" stroke="#000" stroke-width="3.8" stroke-linejoin="round"/>
<path d="M1731.6,2073.4 C1732.2,2072.4 1738.8,2068.6 1741.2,2068.4 C1743.6,2068.2 1753.1,2070.2 1753.9,2071.1 C1754.7,2072.0 1750.9,2076.6 1748.9,2077.3 C1746.9,2078.0 1737.2,2078.5 1735.4,2078.1 C1733.6,2077.7 1731.0,2074.4 1731.6,2073.4Z" fill="#FFFFFF" stroke="#000" stroke-width="3.8" stroke-linejoin="round"/>
<path d="M493.3,1647.2 C495.6,1646.8 503.8,1649.0 506.5,1650.4 C509.2,1651.8 516.3,1657.0 518.6,1660.0 C520.9,1663.0 526.4,1674.6 528.2,1678.1 C530.0,1681.6 534.6,1689.2 535.4,1692.5 C536.2,1695.8 536.2,1705.8 535.9,1709.4 C535.6,1713.0 534.3,1723.0 533.0,1726.3 C531.7,1729.6 525.1,1738.1 523.4,1740.7 C521.7,1743.3 518.4,1748.3 517.3,1750.4 C516.2,1752.5 513.8,1757.3 513.3,1760.0 C512.8,1762.7 514.0,1773.0 512.5,1775.7 C511.0,1778.4 502.8,1783.3 499.3,1785.3 C495.8,1787.3 484.2,1793.2 480.0,1794.9 C475.8,1796.6 463.0,1801.4 459.5,1801.0 C456.0,1800.6 449.3,1794.1 447.5,1791.3 C445.7,1788.5 443.1,1778.6 442.7,1774.5 C442.3,1770.4 443.6,1757.7 443.9,1752.8 C444.2,1747.9 444.2,1732.8 445.1,1728.7 C446.0,1724.6 451.0,1717.2 452.3,1714.2 C453.6,1711.2 455.6,1703.8 457.1,1701.0 C458.6,1698.2 465.0,1690.7 466.7,1687.7 C468.4,1684.7 471.9,1676.1 472.8,1673.3 C473.7,1670.5 473.9,1663.3 475.2,1661.2 C476.5,1659.1 482.9,1655.5 484.8,1654.0 C486.7,1652.5 491.0,1647.6 493.3,1647.2Z" fill="#FF5555" stroke="#000" stroke-width="3.8" stroke-linejoin="round"/>
<path d="M629.4,1743.1 C632.5,1743.6 644.1,1747.6 646.3,1750.4 C648.5,1753.2 649.3,1765.2 649.9,1769.6 C650.5,1774.0 650.9,1787.4 652.3,1791.3 C653.7,1795.2 661.0,1803.0 663.1,1805.8 C665.2,1808.6 670.4,1815.5 671.6,1817.8 C672.8,1820.1 673.9,1823.6 674.0,1827.5 C674.1,1831.4 673.7,1849.8 672.8,1854.0 C671.9,1858.2 667.3,1866.7 665.5,1867.2 C663.7,1867.7 657.6,1860.5 655.9,1858.8 C654.2,1857.1 650.5,1855.2 649.9,1851.6 C649.3,1848.0 650.3,1830.0 649.9,1825.1 C649.5,1820.2 648.0,1809.0 646.3,1805.8 C644.6,1802.6 637.3,1796.8 634.2,1794.9 C631.1,1793.0 619.7,1789.7 617.3,1787.7 C614.9,1785.7 611.9,1779.4 611.3,1775.7 C610.7,1772.0 610.7,1756.0 611.3,1752.8 C611.9,1749.6 615.4,1746.5 617.3,1745.5 C619.2,1744.5 626.3,1742.6 629.4,1743.1Z" fill="#FF5555" stroke="#000" stroke-width="3.8" stroke-linejoin="round"/>
<path d="M560.7,1769.2 L566.3,1775.7 L561.4,1782.9 L555.9,1776.1Z" fill="#FFD7D7" stroke="#000" stroke-width="3.8" stroke-linejoin="round"/>
<path d="M388.9,1885.8 L392.0,1896.1 L399.3,1902.2 L391.3,1909.9 L380.0,1901.0Z" fill="#FF5555" stroke="#000" stroke-width="3.8" stroke-linejoin="round"/>
<path d="M596.9,1879.3 L600.5,1897.3 L597.6,1925.1 L577.6,1901.0Z" fill="#FF5555" stroke="#000" stroke-width="3.8" stroke-linejoin="round"/>
<path d="M646.3,1990.4 C648.2,1990.1 655.9,1994.3 658.3,1995.2 C660.7,1996.1 667.5,1997.3 668.4,1998.8 C669.3,2000.3 667.6,2007.4 666.7,2009.6 C665.8,2011.8 661.4,2017.4 659.5,2019.3 C657.6,2021.2 651.7,2026.4 648.7,2027.7 C645.7,2029.0 634.9,2031.2 631.8,2031.3 C628.7,2031.4 622.1,2029.6 619.8,2028.9 C617.5,2028.2 609.8,2025.8 610.6,2024.8 C611.4,2023.8 624.4,2020.9 627.0,2019.3 C629.6,2017.7 634.0,2011.9 635.4,2009.6 C636.8,2007.3 639.0,1999.6 640.2,1997.6 C641.4,1995.6 644.4,1990.7 646.3,1990.4Z" fill="#FF5555" stroke="#000" stroke-width="3.8" stroke-linejoin="round"/>
<path d="M475.2,2206.5 L488.4,2216.1 L476.4,2228.2 L471.6,2218.1Z" fill="#FFFFFF" stroke="#000" stroke-width="3.8" stroke-linejoin="round"/>
<path d="M541.4,2237.3 C534.5,2236.0 546.9,2227.0 549.9,2225.3 C552.9,2223.6 565.6,2221.6 569.2,2221.0 C572.8,2220.4 580.3,2219.7 583.6,2220.0 C586.9,2220.3 597.2,2222.3 600.5,2224.1 C603.8,2225.9 621.2,2235.9 614.9,2237.3 C608.6,2238.7 548.3,2238.6 541.4,2237.3Z" fill="#FF5555" stroke="#000" stroke-width="3.8" stroke-linejoin="round"/>
<path d="M766.6,2191.8 L792.8,2185.3 L806.3,2189.1 L792.8,2201.4 L779.3,2216.9 L771.6,2228.4 L767.7,2209.2Z" fill="#FF5555" stroke="#000" stroke-width="3.8" stroke-linejoin="round"/>
<path d="M2680.3,1392.5 L2691.1,1406.0 L2681.4,1434.9 L2669.9,1434.9 L2658.3,1408.0 L2664.1,1398.3Z" fill="#FF5555" stroke="#000" stroke-width="3.8" stroke-linejoin="round"/>
<path d="M250.0,280.0 L935.4,307.7 L931.6,322.4 L920.0,334.7 L904.6,330.8 L887.2,328.9 L873.7,323.9 L854.5,323.9 L846.7,332.8 L844.8,342.4 L835.2,350.1 L825.5,349.3 L817.8,342.4 L810.1,346.3 L804.3,357.8 L802.4,365.5 L792.8,363.6 L787.0,352.0 L781.2,350.1 L776.6,357.8 L779.3,371.3 L780.4,392.5 L773.5,402.2 L760.0,402.2 L759.5,401.2 L737.8,398.8 L721.0,396.4 L701.7,397.6 L689.6,389.2 L680.0,383.1 L670.4,384.3 L655.9,378.3 L643.9,377.1 L636.6,372.3 L629.4,375.9 L619.8,368.2 L617.3,380.7 L611.3,379.5 L602.9,369.9 L604.1,381.9 L598.1,391.6 L586.0,388.0 L578.8,385.5 L566.7,388.0 L560.7,384.3 L555.9,380.7 L553.5,394.0 L540.2,395.9 L525.8,394.0 L522.2,403.6 L512.5,410.8 L505.3,404.8 L502.9,419.3 L489.6,419.3 L483.6,420.5 L482.4,425.3 L470.4,426.5 L465.5,430.1 L466.7,454.2 L472.8,451.8 L475.7,459.0 L470.4,465.1 L461.9,466.3 L465.5,483.1 L472.8,485.5 L489.6,485.5 L491.6,488.4 L480.0,491.6 L468.0,493.3 L466.7,509.6 L472.8,519.3 L476.4,525.3 L481.2,541.0 L492.0,545.8 L501.7,550.6 L508.4,557.8 L517.3,554.2 L522.2,541.0 L528.2,538.1 L536.6,542.2 L539.8,550.6 L533.0,557.8 L534.2,577.1 L528.2,591.6 L523.4,606.0 L521.0,613.3 L523.4,625.3 L525.8,647.0 L529.4,668.7 L530.6,685.5 L521.0,697.6 L506.5,709.6 L492.0,719.3 L475.2,720.5 L460.7,713.3 L449.9,702.4 L448.7,690.4 L443.9,671.1 L434.2,666.3 L422.2,654.2 L407.7,639.8 L404.1,632.5 L404.8,621.7 L395.7,624.1 L381.2,631.3 L363.1,641.0 L347.5,642.2 L340.2,650.6 L333.0,666.3 L323.4,680.7 L322.2,700.0 L321.0,714.5 L313.7,725.1 L311.8,726.7 L299.3,736.4 L298.3,755.7 L297.0,771.1 L299.3,786.5 L300.8,800.0 L301.2,830.8 L301.2,871.3 L305.1,882.9 L308.9,896.4 L312.8,915.7 L314.7,931.1 L312.8,934.0 L308.9,940.7 L308.9,958.1 L311.8,965.8 L308.9,959.3 L311.2,969.9 L303.1,974.7 L294.5,975.7 L280.0,976.6 L250.0,980.0Z" fill="#fff" stroke="#000" stroke-width="1.5" stroke-linejoin="round"/>
<path d="M404.1,447.5 L411.3,451.8 L412.5,456.6 L422.2,457.8 L429.4,466.3 L434.2,478.3 L424.6,481.9 L423.4,488.0 L414.9,489.2 L410.1,497.6 L398.1,498.8 L395.7,483.1 L389.6,471.1 L376.4,473.5 L368.0,468.7 L366.7,464.6 L378.8,463.9 L393.3,461.4 L400.5,454.2Z" fill="#FFAAAA" stroke="#000" stroke-width="1.5" stroke-linejoin="round"/>
<path d="M440.2,453.0 L458.3,452.3 L459.5,460.2 L446.3,462.7 L441.9,461.0Z" fill="#FFD7D7" stroke="#000" stroke-width="1.5" stroke-linejoin="round"/>
<path d="M446.3,499.5 L457.1,504.8 L460.0,518.1 L448.7,519.3 L436.6,509.6Z" fill="#FFAAAA" stroke="#000" stroke-width="1.5" stroke-linejoin="round"/>
<path d="M382.4,515.7 L398.1,510.8 L417.3,508.4 L427.0,508.4 L436.6,513.3 L448.7,522.9 L455.4,528.9 L452.3,532.5 L446.3,531.3 L436.6,537.3 L434.2,543.4 L424.6,549.4 L414.9,557.8 L393.3,559.0 L378.8,540.5 L386.0,534.9Z" fill="#FFAAAA" stroke="#000" stroke-width="1.5" stroke-linejoin="round"/>
<path d="M382.4,515.7 L386.0,534.9 L378.8,540.5 L393.3,559.0 L386.0,561.4 L381.2,566.3 L380.0,577.1 L377.6,589.2 L368.0,601.2 L363.1,600.0 L364.3,589.2 L370.4,579.5 L376.4,577.1 L377.6,568.7 L369.2,567.5 L360.7,561.4 L354.7,553.0 L355.2,545.8 L363.1,544.6 L361.9,536.1 L357.1,528.9 L352.3,522.9 L361.9,521.7 L371.6,525.3 L376.4,519.3Z" fill="#FFD7D7" stroke="#000" stroke-width="1.5" stroke-linejoin="round"/>
<path d="M419.8,328.9 L437.8,328.4 L436.6,334.9 L424.6,335.7Z" fill="#FFAAAA" stroke="#000" stroke-width="1.5" stroke-linejoin="round"/>
<path d="M439.0,326.5 L453.5,322.9 L448.7,331.3 L440.2,330.8Z" fill="#FFAAAA" stroke="#000" stroke-width="1.5" stroke-linejoin="round"/>
<path d="M425.8,346.3 L448.7,336.1 L457.1,321.7 L463.1,321.7 L451.1,344.6 L446.3,347.0Z" fill="#FFAAAA" stroke="#000" stroke-width="1.5" stroke-linejoin="round"/>
<path d="M460.7,328.9 L470.4,324.1 L496.9,321.7 L482.4,331.3 L458.3,334.9Z" fill="#FFAAAA" stroke="#000" stroke-width="1.5" stroke-linejoin="round"/>
<path d="M1161.2,2069.6 L1222.7,2063.1 L1215.4,2078.1 L1203.4,2088.9 L1188.9,2096.1 L1169.6,2096.1 L1161.2,2086.5Z" fill="#fff" stroke="#000" stroke-width="0.1" stroke-linejoin="round"/>
<path d="M767.7,2255.4 L769.6,2228.4 L777.3,2209.2 L792.8,2189.9 L816.6,2185.1 L815.9,2167.2 L819.0,2145.5 L822.2,2128.7 L820.2,2104.6 L829.9,2091.3 L839.5,2078.1 L829.9,2084.1 L828.7,2073.3 L837.1,2066.0 L843.1,2066.5 L839.5,2061.2 L841.9,2054.0 L837.1,2046.7 L838.3,2040.7 L845.5,2037.1 L852.8,2040.7 L849.2,2045.5 L849.2,2052.8 L858.8,2056.4 L875.7,2055.9 L886.5,2052.8 L890.1,2039.5 L891.3,2020.2 L892.5,2015.4 L897.3,2015.4 L898.6,1993.7 L893.7,1990.1 L887.7,1987.7 L886.5,1976.9 L888.9,1960.0 L891.3,1957.6 L893.7,1969.6 L898.6,1975.7 L904.6,1972.0 L901.0,1967.2 L911.8,1956.4 L919.0,1958.8 L928.7,1955.2 L940.7,1943.1 L952.8,1928.7 L962.4,1914.2 L968.4,1899.8 L969.6,1891.3 L976.9,1882.9 L988.9,1878.1 L1001.0,1877.6 L1010.6,1878.1 L1017.8,1875.7 L1023.9,1860.0 L1019.0,1876.9 L1025.1,1878.1 L1032.3,1875.7 L1043.1,1878.1 L1046.7,1866.0 L1045.5,1856.4 L1048.0,1846.7 L1041.9,1832.3 L1034.7,1816.6 L1043.1,1827.5 L1052.8,1841.9 L1051.6,1854.0 L1048.0,1861.2 L1051.6,1873.3 L1061.2,1880.5 L1068.4,1879.3 L1075.7,1884.1 L1082.9,1882.9 L1096.1,1876.9 L1082.9,1885.3 L1079.3,1892.5 L1070.8,1892.0 L1056.4,1890.1 L1041.9,1888.9 L1052.8,1893.7 L1055.2,1898.6 L1049.2,1904.6 L1039.5,1905.8 L1037.1,1909.4 L1041.9,1911.8 L1051.6,1914.2 L1063.6,1920.2 L1072.0,1927.5 L1085.3,1931.1 L1097.3,1928.7 L1107.0,1926.3 L1121.4,1927.5 L1135.9,1923.9 L1145.5,1928.7 L1154.0,1934.7 L1162.4,1925.1 L1166.0,1943.1 L1173.3,1946.7 L1160.0,1951.6 L1145.5,1960.0 L1131.1,1966.0 L1116.6,1972.0 L1102.2,1984.1 L1090.1,1991.3 L1086.5,1997.3 L1087.7,2004.6 L1094.9,2007.0 L1102.2,2002.2 L1114.2,2002.2 L1123.9,2010.6 L1133.5,2020.2 L1140.7,2021.4 L1148.0,2019.0 L1158.8,2027.5 L1162.4,2039.5 L1163.6,2051.6 L1157.6,2054.0 L1157.6,2070.8 L1160.0,2075.7 L1148.0,2078.1 L1157.6,2086.5 L1169.6,2096.1 L1188.9,2096.1 L1205.8,2087.7 L1215.4,2075.7 L1221.4,2063.6 L1239.5,2058.8 L1259.3,2052.3 L1265.3,2057.1 L1267.7,2049.9 L1283.4,2035.4 L1296.6,2025.8 L1305.1,2025.8 L1312.3,2030.6 L1317.1,2037.3 L1331.6,2034.9 L1346.0,2035.9 L1359.3,2030.6 L1371.3,2027.0 L1384.6,2028.2 L1403.9,2035.4 L1417.1,2045.1 L1418.3,2052.3 L1423.1,2064.3 L1432.8,2071.6 L1447.2,2072.8 L1453.3,2072.8 L1451.6,2064.3 L1461.7,2074.0 L1474.9,2088.4 L1477.3,2095.7 L1490.6,2099.3 L1505.1,2101.7 L1519.5,2110.1 L1529.2,2118.6 L1541.2,2127.0 L1553.3,2139.0 L1565.3,2152.3 L1577.3,2165.5 L1589.4,2177.6 L1596.6,2187.2 L1601.4,2192.0 L1615.9,2196.9 L1623.1,2205.1 L1627.5,2209.2 L1658.3,2220.7 L1668.0,2232.3 L1669.9,2255.4Z" fill="#fff" stroke="#000" stroke-width="1.5" stroke-linejoin="round"/>
<path d="M1284.6,1904.1 L1302.7,1890.8 L1319.5,1876.4 L1331.6,1872.8 L1344.8,1875.2 L1360.5,1864.3 L1372.5,1861.9 L1381.0,1863.1 L1396.6,1852.3 L1413.5,1846.3 L1419.5,1848.7 L1432.8,1831.8 L1449.6,1830.6 L1471.3,1830.6 L1481.0,1827.0 L1497.8,1827.0 L1505.1,1828.2 L1524.3,1822.2 L1536.4,1812.5 L1553.3,1813.7 L1555.7,1825.8 L1554.5,1837.8 L1543.6,1836.6 L1534.0,1842.7 L1519.5,1849.9 L1500.2,1853.5 L1493.0,1859.5 L1491.8,1865.5 L1502.7,1866.7 L1506.3,1871.6 L1500.2,1875.2 L1490.6,1874.0 L1485.8,1868.0 L1476.1,1870.4 L1466.5,1877.6 L1454.5,1877.6 L1447.2,1874.0 L1452.0,1889.6 L1459.3,1898.1 L1465.3,1904.1 L1466.5,1899.3 L1472.5,1900.5 L1485.8,1913.7 L1490.6,1919.8 L1503.9,1928.2 L1505.1,1934.2 L1500.2,1936.6 L1493.0,1934.2 L1483.4,1925.8 L1477.3,1927.0 L1473.7,1936.6 L1471.3,1945.1 L1468.9,1934.2 L1461.7,1936.6 L1458.1,1948.7 L1454.5,1961.9 L1444.8,1970.4 L1437.6,1975.2 L1437.6,1994.5 L1441.2,1996.9 L1440.0,1982.4 L1444.8,1980.0 L1448.4,1996.9 L1447.7,2007.7 L1435.2,2002.9 L1428.0,2006.5 L1411.1,2007.7 L1418.3,2010.1 L1413.5,2013.7 L1403.9,2014.9 L1402.7,2025.8 L1371.3,2027.0 L1358.1,2027.0 L1296.6,2024.6 L1296.6,2008.9 L1290.6,2008.9 L1284.6,2006.5 L1264.1,1980.0 L1249.6,1948.7 L1247.2,1934.2 L1258.1,1930.6 L1271.3,1924.6 L1279.8,1910.1Z" fill="#fff" stroke="#000" stroke-width="1.5" stroke-linejoin="round"/>
<path d="M1230.4,1928.2 L1249.6,1922.2 L1264.1,1914.9 L1272.5,1902.9 L1273.7,1895.7 L1283.4,1904.1 L1279.8,1910.1 L1271.3,1924.6 L1258.1,1930.6 L1247.2,1934.2 L1254.5,1948.7 L1266.5,1980.0 L1285.8,2006.5 L1281.0,2008.4 L1266.5,2005.3 L1260.5,1996.9 L1264.1,1986.0 L1254.5,1972.8 L1240.0,1963.1 L1228.0,1955.9 L1232.8,1946.3 L1225.5,1936.6Z" fill="#fff" stroke="#000" stroke-width="1.5" stroke-linejoin="round"/>
<path d="M1167.2,1917.8 L1184.1,1915.4 L1193.7,1926.3 L1201.0,1914.2 L1210.6,1919.0 L1228.7,1921.4 L1229.9,1928.7 L1221.4,1931.1 L1220.2,1938.3 L1229.9,1940.7 L1227.5,1950.4 L1215.4,1950.4 L1217.8,1943.1 L1205.8,1937.1 L1201.0,1944.3 L1196.1,1933.5 L1186.5,1935.9 L1181.7,1926.3 L1174.5,1926.3Z" fill="#fff" stroke="#000" stroke-width="1.5" stroke-linejoin="round"/>
<path d="M2118.6,2247.7 L2120.5,2201.4 L2124.3,2168.7 L2116.6,2147.5 L2105.1,2124.3 L2093.5,2112.8 L2085.8,2099.3 L2068.4,2095.4 L2066.5,2081.9 L2074.2,2066.5 L2087.7,2056.9 L2093.5,2054.9 L2101.2,2035.7 L2112.8,2012.5 L2122.4,1989.4 L2130.1,1981.7 L2126.3,1962.4 L2143.6,1968.2 L2170.6,1964.3 L2186.0,1948.9 L2195.7,1945.1 L2205.3,1954.7 L2201.4,1929.6 L2224.6,1921.9 L2243.9,1914.2 L2240.0,1904.6 L2249.6,1898.8 L2247.7,1883.4 L2259.3,1887.2 L2282.4,1881.4 L2305.5,1866.0 L2322.9,1850.6 L2344.1,1844.8 L2349.1,1841.0 L2374.9,1829.4 L2405.8,1835.2 L2417.3,1846.7 L2436.6,1856.4 L2448.2,1858.3 L2461.7,1842.1 L2490.6,1844.8 L2504.1,1852.5 L2511.8,1871.8 L2498.3,1887.2 L2509.9,1904.6 L2506.0,1935.4 L2494.5,1958.6 L2481.0,1974.0 L2481.0,1987.5 L2513.7,2002.9 L2506.0,2006.7 L2475.2,2002.9 L2463.6,1997.1 L2479.0,2020.2 L2479.0,2051.1 L2471.3,2085.8 L2459.8,2108.9 L2432.8,2132.0 L2405.8,2147.5 L2386.5,2162.9 L2374.9,2170.6 L2381.9,2182.2 L2382.7,2201.4 L2378.8,2213.0 L2405.8,2211.1 L2415.4,2228.4 L2421.2,2247.7Z" fill="#fff" stroke="#000" stroke-width="1.5" stroke-linejoin="round"/>
<path d="M2313.3,2071.1 L2322.9,2073.4 L2332.5,2097.3 L2328.7,2105.8 L2321.0,2105.8 L2309.4,2099.3 L2307.5,2085.8Z" fill="#FFD7D7" stroke="#000" stroke-width="1.5" stroke-linejoin="round"/>
<path d="M993.0,319.3 L985.8,330.1 L993.0,333.7 L1005.1,336.1 L1017.1,334.9 L1023.1,328.9 L1021.9,319.3Z" fill="#fff" stroke="#000" stroke-width="1.5" stroke-linejoin="round"/>
<path d="M382.4,515.7 L386.0,534.9 L378.8,540.5 L393.3,559.0" fill="none" stroke="#000" stroke-width="3.8" stroke-linejoin="round" stroke-linecap="round"/>
<path d="M467.0,427.7 L467.5,454.2 L468.0,483.1" fill="none" stroke="#000" stroke-width="3.8" stroke-linejoin="round" stroke-linecap="round"/>
<path d="M422.2,457.8 C423.0,458.7 428.1,464.1 429.4,466.3 C430.7,468.5 433.7,477.0 434.2,478.3" fill="none" stroke="#000" stroke-width="3.8" stroke-linejoin="round" stroke-linecap="round"/>
<path d="M297.0,778.8 C297.2,780.4 299.0,788.4 299.3,794.2 C299.6,800.0 300.2,824.8 300.2,832.8 C300.2,840.8 299.8,865.5 299.7,869.4" fill="none" stroke="#000" stroke-width="3.8" stroke-linejoin="round" stroke-linecap="round"/>
<path d="M1161.2,2086.5 L1161.2,2069.6 L1222.7,2063.1" fill="none" stroke="#000" stroke-width="3.8" stroke-linejoin="round" stroke-linecap="round"/>
<path d="M1296.6,2008.9 L1296.6,2024.6 L1358.1,2027.0" fill="none" stroke="#000" stroke-width="3.8" stroke-linejoin="round" stroke-linecap="round"/>
<path d="M1336.4,1993.3 L1370.1,1995.7 L1371.3,2004.1" fill="none" stroke="#000" stroke-width="3.8" stroke-linejoin="round" stroke-linecap="round"/>
<path d="M1377.3,1998.1 L1387.0,1995.2 L1400.2,2002.9 L1401.4,2025.8 L1371.3,2025.8" fill="none" stroke="#000" stroke-width="3.8" stroke-linejoin="round" stroke-linecap="round"/>
<path d="M2463.6,1997.1 C2465.2,1999.6 2477.4,2014.4 2479.0,2020.2 C2480.6,2026.0 2479.8,2044.1 2479.0,2051.1 C2478.2,2058.1 2473.3,2079.6 2471.3,2085.8 C2469.3,2092.0 2463.9,2104.0 2459.8,2108.9 C2455.7,2113.8 2438.6,2127.9 2432.8,2132.0 C2427.0,2136.1 2410.7,2144.2 2405.8,2147.5 C2400.9,2150.8 2389.8,2160.4 2386.5,2162.9 C2383.2,2165.4 2376.1,2169.8 2374.9,2170.6" fill="none" stroke="#000" stroke-width="3.8" stroke-linejoin="round" stroke-linecap="round"/>
<path d="M2322.9,2073.4 L2332.5,2097.3 L2328.7,2105.8" fill="none" stroke="#000" stroke-width="3.8" stroke-linejoin="round" stroke-linecap="round"/>
<path d="M2463.6,1997.1 L2425.1,2001.0 L2411.6,1999.0 L2390.4,2002.9 L2378.8,2020.2 L2376.9,2029.9 L2357.6,2041.4 L2359.5,2053.0 L2378.8,2064.6 L2382.7,2074.2 L2400.0,2081.9 L2369.2,2086.6 L2353.7,2073.4 L2324.8,2073.4 L2313.3,2071.1 L2307.5,2085.8 L2309.4,2099.3 L2321.0,2105.8 L2330.6,2105.1 L2348.0,2110.8 L2355.7,2132.0 L2367.2,2155.2 L2374.9,2170.6" fill="none" stroke="#000" stroke-width="2.2" stroke-linejoin="round" stroke-linecap="round"/>
<path d="M1953.0,2234.2 C1954.0,2232.4 1961.4,2221.7 1962.7,2217.3 C1964.0,2212.9 1964.3,2198.4 1965.1,2193.3 C1965.9,2188.2 1968.6,2173.6 1969.9,2169.2 C1971.2,2164.8 1975.0,2155.0 1977.1,2152.3 C1979.2,2149.6 1986.1,2144.9 1989.2,2143.9 C1992.3,2142.9 2002.4,2142.3 2006.0,2142.7 C2009.6,2143.1 2019.6,2146.2 2022.9,2147.5 C2026.2,2148.8 2034.6,2152.8 2037.3,2154.7 C2040.0,2156.6 2045.9,2162.7 2048.2,2165.5 C2050.5,2168.3 2056.9,2178.2 2059.0,2181.2 C2061.1,2184.2 2066.5,2189.7 2067.5,2193.3 C2068.5,2196.9 2069.6,2212.1 2068.7,2214.9 C2067.8,2217.7 2060.8,2217.7 2059.0,2219.8 C2057.2,2221.9 2052.6,2232.7 2051.8,2234.2" fill="none" stroke="#000" stroke-width="7" stroke-linejoin="round" stroke-linecap="round"/>
<path d="M2102.4,2234.2 C2100.3,2232.1 2083.9,2218.2 2083.1,2214.9 C2082.3,2211.6 2091.9,2204.9 2095.2,2202.9 C2098.5,2200.9 2111.4,2196.0 2114.5,2195.7 C2117.6,2195.4 2123.1,2200.0 2124.1,2200.5" fill="none" stroke="#000" stroke-width="6" stroke-linejoin="round" stroke-linecap="round"/>
<path d="M1837.3,2231.8 C1838.8,2231.1 1849.0,2225.1 1851.8,2225.1 C1854.6,2225.1 1862.6,2231.1 1863.9,2231.8" fill="none" stroke="#000" stroke-width="6" stroke-linejoin="round" stroke-linecap="round"/>
<path d="M780.4,392.5 L788.9,402.2 L790.8,413.7 L781.2,419.5 L771.6,421.4 L763.9,434.9 L761.9,448.4 L748.4,465.8 L736.9,483.1 L740.7,508.2 L744.6,531.3 L742.7,554.5 L748.4,573.7 L755.0,585.3 L757.3,598.8 M522.1,606.5 L530.6,604.6 L536.4,596.9 L549.9,593.0 L565.3,587.2 L578.8,579.5 L584.6,581.4 L586.5,589.2 L588.4,577.6 L600.0,583.4 L619.3,604.6 L634.7,608.4 L646.3,620.0 L659.8,639.3 L673.3,648.9 L681.0,650.8 L688.7,645.1 L702.2,636.2 L709.9,639.3 L719.5,645.1 L733.0,648.9 L744.6,650.8 L748.4,664.3 L755.0,666.3 M744.6,608.4 L736.9,623.9 L733.0,637.3 L733.0,648.9 M755.0,666.3 L763.9,670.1 L766.6,679.8 L761.9,701.0 L758.1,718.3 L760.0,729.9 L769.6,735.7 L773.5,747.2 L781.2,768.4 L788.9,785.8 L792.8,801.2 L790.8,816.6 L788.1,822.4 M301.2,830.8 L309.9,830.8 L310.8,822.2 L317.6,813.5 L326.3,809.6 L334.0,804.8 L345.5,801.9 L357.1,796.1 L366.7,790.4 L382.2,791.3 L399.5,791.3 L407.2,794.2 L413.0,798.1 L422.7,792.3 L427.5,788.8 L432.3,794.2 L437.1,803.9 L441.9,800.0 L453.5,795.2 L463.1,799.0 L472.8,798.1 L482.4,797.1 L492.0,799.0 L501.7,802.9 L509.4,808.7 L516.1,807.7 L523.9,803.9 L530.6,807.7 L539.3,806.7 L546.0,797.1 L554.7,792.3 L563.4,786.5 L567.2,792.3 L571.1,803.9 L577.8,817.3 L592.3,820.2 L609.6,823.1 L621.2,832.8 L634.7,844.3 L646.3,852.0 L654.0,860.7 L659.8,873.3 L673.3,879.0 L680.0,881.0 M681.0,880.2 L694.5,876.4 L700.2,866.7 L715.7,861.0 L731.1,864.8 L748.4,866.7 L752.3,851.3 L769.6,834.0 L788.1,822.4 M681.0,880.2 L681.0,901.4 L671.3,920.7 L677.1,924.6 L694.5,929.2 L684.8,940.0 L679.8,950.4 M680.0,950.4 L673.3,952.3 L657.8,956.1 L654.9,967.7 L650.1,972.5 L640.5,974.5 L632.8,975.4 L627.0,980.0 M788.1,822.4 L800.5,834.0 L815.9,830.1 L827.5,847.5 L839.0,841.7 L854.5,839.8 L869.9,847.5 L877.6,859.0 L871.8,866.7 L881.4,878.3 L896.9,868.7 L912.3,859.0 L935.4,861.0 L950.8,870.6 L962.4,882.2 L970.1,889.9 L977.8,889.9 L979.8,916.9 L972.0,932.3 L981.7,955.4 L985.5,970.8 L979.8,980.1 M977.8,889.9 L985.5,874.5 L1014.5,874.5 L1008.7,851.3 L1018.3,839.8 L1016.4,805.1 L1002.9,801.2 L1001.0,789.6 L985.5,781.9 L989.4,758.8 L977.8,760.7 L970.1,747.2 L981.7,722.2 L997.1,726.0 L1012.5,724.1 L1028.0,716.4 L1035.7,704.8 L1051.1,701.0 L1066.5,693.3 L1080.0,685.5 M333.0,940.0 L345.5,947.7 L361.0,955.4 L364.8,959.3 L370.6,959.3 L376.4,955.4 L399.5,954.5 L406.3,959.3 L408.2,967.0 L414.9,968.9 L422.7,976.6 L423.0,988.2 L418.8,991.1 L413.0,999.8 L412.0,1013.3 L410.7,1024.8 L413.0,1030.6 L417.3,1036.4 M294.5,1040.2 L310.8,1043.1 L351.3,1043.1 L395.7,1041.2 L417.3,1039.3 L418.8,1034.5 L424.6,1033.1 L432.3,1036.4 L440.0,1046.0 L453.5,1051.8 L465.4,1062.4 L468.0,1074.9 L468.5,1087.5 M468.5,1087.5 L472.8,1089.4 L509.4,1088.0 L512.3,1084.2 L518.1,1088.4 L521.0,1093.3 L528.7,1094.2 L536.4,1088.4 L545.1,1081.7 L550.8,1084.6 L558.6,1083.6 L559.1,1074.9 L557.0,1069.2 L559.5,1064.3 L568.2,1063.4 L572.0,1066.3 L578.8,1064.3 L584.6,1055.7 L598.1,1050.8 L603.9,1045.6 L608.7,1051.8 L605.8,1060.5 L609.6,1065.3 L624.1,1063.4 L626.0,1053.7 L619.3,1042.2 L615.4,1045.1 L608.7,1044.1 L607.7,1039.3 L614.5,1021.0 L622.2,1015.2 L620.2,1001.7 L621.2,988.2 L627.0,974.7 L632.8,968.9 L640.5,968.0 M467.0,1086.5 L468.0,1096.1 L472.8,1113.5 L476.6,1132.8 L482.4,1150.1 L492.0,1175.2 L495.9,1192.5 L497.4,1213.7 L496.9,1231.1 L485.3,1239.8 L480.5,1240.7 L469.9,1244.6 L461.2,1251.3 L453.5,1261.9 L446.7,1273.5 L444.8,1280.0 M312.8,934.0 L320.5,929.2 L332.0,938.8 L343.6,946.5 L357.1,954.2 L360.0,956.1 M301.2,873.3 L304.1,886.7 L304.1,909.9 L299.3,921.4 L295.4,927.2 M1080.0,683.6 L1095.4,675.9 L1108.9,660.5 L1122.4,662.4 L1137.8,660.5 L1139.8,647.0 L1143.6,635.4 L1157.1,627.7 L1162.9,608.4 L1170.6,596.9 L1166.7,583.4 L1159.0,579.5 L1170.6,568.0 L1191.8,566.0 L1199.5,562.2 L1218.8,568.0 L1236.1,577.6 L1238.1,564.1 L1245.8,558.3 L1261.2,560.2 L1276.6,554.5 L1278.6,541.0 L1295.9,531.3 L1322.9,533.3 L1342.2,521.7 L1357.6,521.7 L1373.0,504.3 L1384.6,481.2 L1400.0,476.6 L1407.7,481.2 L1415.4,492.8 L1440.5,524.4 L1446.3,508.2 L1459.8,508.2 L1465.5,496.6 L1488.7,492.8 L1529.2,490.8 L1530.3,467.7 L1542.7,463.9 L1573.5,469.6 L1592.8,485.1 L1604.3,492.8 L1614.0,514.0 L1619.8,517.8 L1642.9,512.0 L1666.0,511.3 L1687.2,494.7 L1683.4,461.9 L1694.9,461.9 L1712.3,450.4 L1727.7,444.6 L1743.1,442.7 L1747.0,427.2 L1739.3,419.5 L1743.1,402.2 L1752.8,404.1 L1754.7,415.7 L1762.4,421.4 L1781.7,413.7 L1793.3,429.2 L1801.0,434.9 L1820.2,423.4 L1831.8,429.2 L1835.7,419.5 L1845.3,418.7 L1845.3,427.2 L1858.8,423.4 L1880.0,429.2 M1866.5,662.4 L1854.9,650.8 L1850.3,635.4 L1839.5,643.1 L1828.0,662.4 L1822.2,681.7 L1820.2,704.8 L1823.3,728.0 L1818.3,735.7 L1801.0,739.5 L1797.1,762.7 L1801.0,781.9 L1785.5,789.6 L1795.2,801.2 L1797.1,816.6 L1806.7,820.5 L1793.3,824.3 L1787.5,839.8 L1785.5,845.5 L1774.0,859.0 L1762.4,874.5 L1747.0,889.9 L1745.1,905.3 L1746.2,924.6 L1735.4,936.1 L1731.6,951.6 L1735.4,963.1 L1754.7,968.9 L1774.0,963.1 M1920.0,438.8 L1948.9,440.7 L1952.8,433.0 L2012.5,433.0 L2016.4,417.6 L2028.0,411.8 L2041.4,411.8 L2045.3,373.3 L2072.3,371.3 L2091.6,375.2 L2095.4,355.9 L2080.0,352.0 L2085.8,323.1 M2091.6,375.2 L2089.6,408.0 L2103.1,409.9 L2101.2,427.2 L2124.3,450.4 L2128.2,469.6 M2116.6,469.6 L2107.0,471.6 L2107.0,488.9 L2095.4,488.9 L2085.8,508.2 L2058.8,514.0 L2054.9,535.2 L2045.3,541.0 L2043.4,562.2 L2039.5,579.5 L1997.1,585.3 L1993.3,594.9 L1987.5,596.9 L1981.7,585.3 L1970.1,579.5 L1939.3,577.6 L1933.5,593.0 L1939.3,604.6 L1929.6,627.7 M2188.0,323.1 L2189.9,361.7 L2228.4,369.4 L2226.5,390.6 L2247.7,402.2 L2261.2,404.1 L2259.3,423.4 L2268.9,429.2 L2278.6,427.2 L2278.6,388.7 L2282.4,367.5 L2295.9,363.6 L2290.1,355.9 L2309.4,352.0 L2313.3,344.3 L2355.7,336.6 L2363.4,323.1 M2386.5,323.1 L2390.4,328.9 M444.6,1280.0 L449.6,1286.5 L468.9,1294.2 L478.6,1305.8 L472.8,1327.0 L468.9,1350.1 L472.8,1361.7 M472.8,1352.0 L480.5,1349.3 L499.8,1354.7 L511.3,1346.3 L521.0,1338.6 L526.7,1323.1 L549.9,1321.2 L573.0,1318.5 L586.5,1313.5 L594.2,1318.5 L623.1,1317.3 L646.3,1323.1 L669.4,1327.0 L671.3,1330.8 L684.8,1330.1 L704.1,1336.6 L719.5,1335.5 L723.4,1350.1 L727.2,1354.0 L750.4,1352.0 L758.1,1367.5 L763.9,1363.6 L761.9,1354.0 L785.1,1353.2 L792.8,1348.2 L798.6,1355.9 L819.8,1357.8 L825.5,1373.3 L829.4,1365.5 L850.6,1350.1 L856.4,1352.0 L868.0,1379.0 L889.2,1367.5 L896.9,1371.3 L920.0,1365.5 L931.6,1367.5 L952.8,1392.5 L959.3,1382.9 L952.8,1352.0 L962.4,1327.0 L977.8,1309.6 L979.8,1300.0 L1012.5,1296.9 L1039.5,1296.9 M472.8,1352.0 L476.6,1365.5 L480.5,1388.7 L495.9,1411.8 L501.7,1429.2 L511.3,1436.9 L497.8,1440.7 L509.4,1458.1 L507.5,1473.5 L499.8,1485.1 L484.3,1487.0 L468.9,1504.3 L449.6,1523.6 L430.4,1548.7 L411.1,1573.7 L414.9,1596.9 L416.9,1612.3 L411.1,1627.7 L424.6,1633.5 M968.2,980.0 L977.8,991.6 L991.3,1005.1 L993.3,1016.6 L987.5,1022.4 L1002.9,1028.2 L1008.7,1053.3 L1031.8,1066.7 L1041.4,1070.6 L1043.4,1088.0 L1036.4,1103.4 L1051.1,1107.2 L1066.5,1103.4 L1080.0,1111.1 M1080.0,1178.6 L1054.9,1186.3 L1039.5,1182.4 L1035.7,1172.8 L1010.6,1174.7 L1002.9,1192.0 L1022.2,1215.2 L1018.3,1230.6 L1026.0,1249.9 L1028.0,1276.9 L1039.5,1296.1 L1051.1,1303.9 L1070.4,1300.0 L1076.1,1284.6 L1080.0,1273.0 M1080.0,1113.0 L1086.9,1116.9 L1081.9,1126.5 L1095.4,1138.1 L1103.1,1145.8 L1102.4,1157.3 L1091.6,1165.1 L1080.0,1176.6 M1080.0,1271.1 L1099.3,1276.9 L1116.6,1280.7 L1134.0,1268.4 L1157.1,1271.1 L1178.3,1269.2 L1195.7,1292.3 L1195.7,1301.9 L1207.2,1319.3 L1218.8,1328.9 L1219.6,1340.5 L1197.6,1344.3 L1195.7,1350.1 L1205.3,1359.8 L1209.2,1377.1 L1214.9,1388.7 L1234.2,1400.2 L1253.5,1398.3 L1265.1,1396.4 L1268.9,1411.8 L1282.4,1415.7 L1280.5,1423.4 L1290.1,1442.7 L1292.0,1454.2 L1287.4,1460.0 L1291.3,1477.3 L1299.8,1487.0 L1311.3,1485.1 L1321.0,1481.2 L1336.4,1483.1 L1342.2,1490.8 L1349.9,1496.6 L1365.3,1498.6 L1367.2,1504.3 L1374.9,1502.4 L1388.4,1492.8 L1407.7,1490.8 L1419.3,1481.2 L1427.0,1481.2 L1442.4,1515.9 L1461.7,1527.5 L1471.3,1537.1 L1477.1,1521.7 L1486.7,1519.8 L1490.6,1527.5 L1508.0,1535.2 L1523.4,1539.0 L1531.1,1548.7 L1546.5,1542.9 L1556.1,1556.4 L1567.7,1554.5 L1581.2,1569.9 L1592.8,1575.7 L1608.2,1569.9 L1614.0,1571.8 L1639.0,1569.9 L1658.3,1562.2 L1673.7,1554.5 L1677.6,1539.0 L1693.0,1523.6 L1696.9,1512.0 L1691.1,1508.2 L1700.7,1492.8 L1706.5,1485.1 L1702.7,1467.7 L1696.9,1456.1 L1685.3,1444.6 L1693.0,1438.8 L1712.3,1423.4 L1735.4,1404.1 L1747.0,1404.1 L1758.6,1406.0 L1785.5,1394.5 L1801.0,1394.5 L1833.7,1419.5 L1854.9,1408.0 L1880.0,1404.1 M1772.0,980.0 L1785.5,999.3 L1788.6,1014.7 L1785.5,1037.8 L1766.3,1051.3 L1754.7,1053.3 L1758.6,1061.0 L1777.8,1055.2 L1781.7,1064.8 L1774.0,1071.8 L1762.4,1068.7 L1772.0,1082.2 L1768.2,1093.7 L1750.8,1103.4 L1747.0,1114.9 L1748.9,1136.1 L1764.3,1151.6 L1777.8,1180.5 L1793.3,1194.0 L1808.7,1201.7 L1826.0,1234.5 L1812.5,1248.0 L1815.6,1265.3 L1804.8,1269.2 L1802.9,1280.7 L1793.3,1288.4 L1791.3,1319.3 L1774.0,1346.3 L1785.5,1361.7 L1801.0,1381.0 L1801.0,1394.5 M1612.0,1571.8 L1606.3,1585.3 L1615.9,1600.7 L1614.0,1612.3 L1600.5,1623.9 L1596.6,1635.4 L1583.1,1641.2 L1585.1,1648.9 L1606.3,1656.6 L1600.5,1660.1 M1920.0,1404.1 L1939.3,1404.1 L1954.7,1408.0 L1966.3,1423.4 L1968.2,1442.7 L1964.3,1452.3 L1964.3,1464.6 L1993.3,1464.6 L1995.2,1450.4 L2002.9,1444.6 L2020.2,1458.1 L2022.2,1471.6 L2047.2,1469.6 L2051.1,1460.0 L2060.7,1454.2 L2072.3,1461.9 L2074.2,1467.7 L2083.9,1477.3 L2091.6,1473.5 L2099.3,1473.5 L2101.2,1487.0 L2114.7,1488.9 L2118.6,1481.2 L2128.2,1479.3 L2151.3,1504.3 L2162.9,1519.8 L2166.7,1535.2 L2176.4,1544.8 L2186.0,1547.5 L2205.3,1537.1 L2216.9,1525.5 L2213.0,1514.0 L2205.3,1492.8 L2203.4,1465.0 L2214.9,1463.9 L2232.3,1444.6 L2253.5,1436.9 L2249.6,1423.4 L2255.4,1408.0 L2278.6,1407.2 L2290.1,1396.4 L2313.3,1390.6 L2319.0,1375.2 L2328.7,1373.3 L2332.5,1352.0 L2340.2,1355.9 L2348.0,1355.9 L2346.0,1336.6 L2357.6,1344.3 L2380.7,1344.3 L2388.4,1350.1 L2380.7,1361.7 L2386.5,1367.5 L2409.6,1369.4 L2415.4,1354.0 L2425.1,1346.3 L2440.5,1346.3 L2454.0,1333.9 L2459.8,1350.1 L2465.5,1365.5 L2475.2,1369.4 L2490.6,1365.5 L2506.0,1367.5 L2525.3,1365.5 L2540.7,1377.1 L2544.6,1394.5 L2571.6,1402.2 L2579.3,1419.5 L2602.4,1436.9 L2596.6,1461.9 L2604.3,1471.6 L2615.9,1463.9 L2614.0,1431.1 L2606.3,1427.2 L2610.1,1417.6 L2625.5,1421.4 L2644.8,1440.7 L2664.1,1458.1 L2671.8,1458.1 L2685.3,1471.6 L2706.5,1458.1 M2114.7,1488.9 L2105.1,1500.5 L2108.9,1515.9 L2101.2,1531.3 L2081.9,1541.0 L2078.1,1566.0 L2072.3,1596.9 L2089.6,1612.3 L2089.6,1627.7 L2078.1,1639.3 L2068.4,1647.0 L2064.6,1660.1 M422.2,1560.0 L410.1,1575.7 L411.3,1586.5 L416.1,1598.6 L416.1,1607.0 L412.5,1616.6 L424.6,1625.1 L424.6,1634.7 L402.9,1626.3 L364.3,1611.8 L364.3,1604.6 L359.5,1598.6 L337.8,1590.1 L331.8,1590.1 L319.8,1587.7 L308.9,1588.9 L299.3,1590.1 L295.7,1598.6 M402.9,1626.3 L401.7,1632.3 L395.7,1639.5 L390.8,1654.0 L387.2,1667.2 L380.0,1674.5 L374.0,1680.5 L373.5,1696.1 L381.2,1696.1 L383.6,1704.6 L389.6,1713.0 L398.1,1713.0 L405.3,1720.2 L407.7,1726.3 L417.3,1726.3 L423.4,1732.3 L424.6,1740.7 L436.6,1737.1 L441.4,1732.3 L446.3,1728.7 L458.3,1738.3 L472.8,1738.3 L496.9,1741.9 L517.3,1748.0 L530.6,1742.7 L542.7,1743.1 L549.9,1752.8 L559.5,1757.6 L564.3,1767.2 L576.4,1764.8 L583.6,1752.8 L593.3,1746.7 L614.9,1744.3 L629.4,1740.7 L651.1,1739.5 L658.3,1732.3 L661.9,1720.2 L675.2,1715.4 L689.6,1711.8 L699.3,1714.2 L711.3,1728.7 M424.6,1740.7 L417.3,1752.8 L407.7,1760.0 L398.1,1760.0 L386.0,1764.8 L376.4,1778.1 L365.5,1785.3 L364.3,1801.0 L354.7,1810.6 L352.3,1822.7 L340.2,1837.1 L341.4,1843.1 L329.4,1861.2 L330.6,1868.4 L318.6,1876.9 L313.7,1894.9 L304.1,1904.6 L306.5,1913.0 L296.9,1914.2 M294.5,1685.3 L311.3,1684.1 L324.6,1678.1 L336.6,1686.5 L343.9,1702.2 L359.5,1698.6 L373.5,1696.1 M294.5,2003.6 L316.1,2015.7 L329.4,2019.3 L329.4,2027.7 L321.0,2036.1 L331.8,2044.6 L331.8,2049.4 L321.0,2051.8 L321.0,2057.8 L336.6,2061.4 L337.8,2068.7 L363.1,2072.3 L370.4,2086.7 L376.4,2086.7 L387.2,2068.7 L394.5,2065.1 L405.3,2073.5 L413.7,2075.9 L416.1,2080.7 L407.7,2081.9 L395.7,2088.0 L402.9,2104.8 L411.3,2107.2 L411.3,2113.3 M411.3,2113.3 L424.6,2121.7 L434.2,2124.1 L434.2,2131.3 L424.6,2134.9 L421.7,2145.8 L429.4,2150.6 L439.0,2151.8 L460.7,2147.0 L472.8,2153.0 L487.2,2154.2 L511.3,2162.2 L525.8,2161.4 L537.8,2155.9 L549.9,2160.7 L574.0,2161.4 L586.0,2163.9 L595.7,2168.7 L610.1,2166.3 L624.6,2161.4 L636.6,2148.2 L651.1,2133.7 L670.4,2127.7 L689.6,2125.3 L704.1,2119.8 L727.0,2120.5 L730.6,2126.5 L737.8,2131.3 L752.3,2128.9 L758.3,2136.1 L771.6,2133.7 L776.4,2145.8 L780.0,2148.2 M760.0,2139.8 L781.2,2147.5 L796.6,2155.2 L815.9,2157.1 M411.3,2113.3 L405.3,2124.1 L392.0,2132.5 L389.6,2148.2 L394.5,2165.1 L400.5,2181.9 L412.5,2190.4 L424.6,2204.8 L433.0,2210.8 L430.6,2218.1 L422.2,2228.2 M682.9,1704.1 L723.4,1698.3 L742.7,1690.6 L761.9,1690.6 L777.3,1704.1 L785.1,1713.7 L798.6,1711.8 L815.9,1723.4 L835.2,1725.3 L844.8,1740.7 L856.4,1738.8 L862.2,1761.9 L856.4,1781.2 L858.3,1792.8 L875.7,1808.2 L885.3,1806.3 L887.2,1842.9 L910.4,1854.5 M711.0,1728.8 L723.4,1750.4 L731.1,1777.3 L746.5,1804.3 L761.9,1815.9 L777.3,1827.5 L785.1,1846.7 L792.8,1869.9 L794.7,1900.7 L785.1,1923.9 L783.1,1939.3 L788.9,1956.6 L788.9,1975.9 L781.2,1981.7 L792.8,1993.3 L800.5,2004.8 L823.6,2016.4 L835.2,2008.7 L869.9,1993.3 L887.2,2001.0 L896.9,2014.5 M863.6,1760.0 L861.2,1774.5 L855.2,1784.1 L856.4,1793.7 L868.4,1799.8 L873.3,1809.4 L880.5,1804.6 L885.3,1805.8 L886.5,1844.3 L907.0,1852.8 L911.8,1856.4 L911.8,1880.5 L908.2,1885.3 L916.6,1894.9 L922.7,1898.6 L914.2,1902.2 L904.6,1904.6 L896.1,1893.7 L891.3,1897.3 L880.5,1891.3 L870.8,1892.5 L861.2,1902.2 L860.0,1885.3 L841.9,1893.7 L841.9,1907.0 L848.0,1919.0 L845.5,1932.3 L843.1,1938.3 L829.9,1943.1 L828.7,1952.8 L820.2,1960.0 L811.8,1969.6 L811.8,1986.5 L793.7,1986.5 L796.1,1998.6 L803.4,2008.2 L825.1,2015.4 L834.7,2008.2 L854.0,1998.6 L866.0,1993.7 L880.5,1996.1 L890.1,2003.4 L891.3,2015.4 M782.9,1839.5 L793.7,1875.7 L793.7,1899.8 L786.5,1916.6 L782.9,1933.5 L786.5,1950.4 L787.7,1976.9 L781.7,1980.5 L792.5,1992.5 M760.0,2137.1 L770.8,2134.7 L776.9,2150.4 L791.3,2156.4 L815.4,2157.6 M1604.3,1654.0 L1590.8,1657.8 L1581.2,1673.3 L1592.8,1681.0 L1596.6,1696.4 L1602.4,1708.0 L1592.8,1727.2 L1588.9,1736.9 L1590.8,1754.2 L1561.9,1752.3 L1546.5,1754.2 L1523.4,1754.2 L1517.6,1769.6 L1504.1,1775.4 L1488.7,1779.3 L1482.9,1792.8 L1481.0,1808.2 L1484.8,1810.1 L1481.0,1827.5 M1704.8,1937.1 L1707.2,1936.6 L1736.1,1937.8 L1747.0,1945.1 L1753.0,1945.1 L1754.2,1925.8 L1765.1,1925.8 L1763.9,1941.4 L1779.5,1940.2 L1791.6,1931.8 L1797.6,1930.6 L1798.8,1922.2 L1806.0,1917.3 L1813.3,1923.4 L1830.1,1930.6 L1844.6,1941.4 L1863.9,1943.9 L1883.1,1951.1 L1890.4,1964.3 L1904.8,1983.6 L1916.9,1992.0 L1941.0,1998.1 L1943.4,2002.9 L1960.2,2011.3 L1977.1,2019.8 L1989.2,2029.4 L1996.4,2037.8 L2003.6,2036.6 L2020.5,2039.0 L2042.2,2042.7 L2056.6,2052.3 L2068.7,2057.1 L2078.3,2053.5 M1705.1,1936.6 L1699.0,1942.7 L1684.6,1941.4 L1683.4,1948.7 L1691.8,1957.1 L1684.6,1963.1 L1671.3,1964.3 L1660.5,1971.6 L1661.7,1981.2 L1668.9,1987.2 L1676.1,1998.1 L1678.6,2013.7 L1688.2,2017.3 L1699.0,2016.1 L1701.4,2024.6 L1712.3,2039.0 L1721.9,2042.7 L1724.3,2048.7 L1723.1,2055.9 L1714.7,2064.3 L1707.5,2068.0 L1712.3,2076.4 L1723.1,2084.8 L1731.6,2092.0 L1720.7,2100.5 L1728.0,2107.7 L1728.0,2121.0 M1773.5,2205.3 L1783.1,2213.7 L1790.4,2211.3 L1801.2,2213.7 L1810.8,2221.0 L1815.7,2228.2 M1604.3,2189.9 L1610.1,2176.4 L1619.8,2172.5 L1650.6,2178.3 L1658.3,2162.9 L1666.0,2139.8 L1668.0,2126.3 L1675.7,2123.6 L1696.9,2128.2 L1700.7,2135.9 L1712.3,2135.9 L1716.1,2128.2 L1727.7,2122.4 M1650.6,2178.3 L1673.7,2193.7 L1696.9,2195.7 L1712.3,2209.2 L1735.4,2209.2 L1758.6,2205.3 L1774.0,2205.3 L1785.5,2213.0 L1801.0,2213.0 L1812.5,2228.4 M2064.6,1660.1 L2051.1,1694.5 L2093.5,1709.9 L2095.4,1750.4 L2112.8,1767.7 L2114.7,1754.2 L2135.9,1760.0 L2159.0,1758.8 L2170.6,1769.6 L2186.0,1796.6 L2195.7,1804.3 L2205.3,1831.3 L2224.6,1862.2 L2216.9,1868.0 L2201.4,1868.0 L2195.7,1862.2 L2189.9,1868.0 L2191.8,1877.6 L2205.3,1885.3 L2224.6,1896.9 L2240.0,1904.6 M1866.5,662.4 L1875.3,663.0 L1893.4,656.2 L1909.3,644.8 L1916.0,629.0 L1929.6,627.7 M1880.0,1404.0 L1888.9,1408.5 L1898.0,1399.5 L1911.6,1397.2 L1922.9,1403.1 L1934.3,1401.7 L1941.0,1407.6 M1880.0,429.0 L1900.0,434.0 L1920.0,438.8" fill="none" stroke="#000" stroke-width="1.5" stroke-linejoin="round"/>
</g>
<rect x="294.5" y="322.5" width="2412" height="1906" fill="none" stroke="#000" stroke-width="1"/>
<g clip-path="url(#fr)">
<text x="501.82" y="524.6" font-size="42.5" style="font-family:'Liberation Sans','DejaVu Sans',sans-serif;font-weight:bold;fill:#000" textLength="194.12" lengthAdjust="spacingAndGlyphs">ESTONIA</text>
<text x="528.72" y="760.7" font-size="42.5" style="font-family:'Liberation Sans','DejaVu Sans',sans-serif;font-weight:bold;fill:#000" textLength="155.22" lengthAdjust="spacingAndGlyphs">LATVIA</text>
<text x="354.63" y="926.5" font-size="42.5" style="font-family:'Liberation Sans','DejaVu Sans',sans-serif;font-weight:bold;fill:#000" textLength="240.69" lengthAdjust="spacingAndGlyphs">LITHUANIA</text>
<text x="290.0" y="1029.5" font-size="42.5" style="font-family:'Liberation Sans','DejaVu Sans',sans-serif;font-weight:bold;fill:#000" textLength="97.4" lengthAdjust="spacingAndGlyphs">KAL.</text>
<text x="619.93" y="1203.6" font-size="42.5" style="font-family:'Liberation Sans','DejaVu Sans',sans-serif;font-weight:bold;fill:#000" textLength="202.52" lengthAdjust="spacingAndGlyphs">BELARUS</text>
<text x="1724.71" y="778" font-size="42.5" style="font-family:'Liberation Sans','DejaVu Sans',sans-serif;font-weight:bold;fill:#000" textLength="163.13" lengthAdjust="spacingAndGlyphs">RUSSIA</text>
<text x="915.95" y="1684.8" font-size="42.5" style="font-family:'Liberation Sans','DejaVu Sans',sans-serif;font-weight:bold;fill:#000" textLength="198.9" lengthAdjust="spacingAndGlyphs">UKRAINE</text>
<text x="755.61" y="1842" font-size="42.5" style="font-family:'Liberation Sans','DejaVu Sans',sans-serif;font-weight:bold;fill:#000" textLength="117.67" lengthAdjust="spacingAndGlyphs">MOL.</text>
<text x="416.73" y="2002.5" font-size="42.5" style="font-family:'Liberation Sans','DejaVu Sans',sans-serif;font-weight:bold;fill:#000" textLength="218.79" lengthAdjust="spacingAndGlyphs">ROMANIA</text>
<text x="250.7" y="2212.8" font-size="42.5" style="font-family:'Liberation Sans','DejaVu Sans',sans-serif;font-weight:bold;fill:#000" textLength="96" lengthAdjust="spacingAndGlyphs">SRB.</text>
<text x="1080.69" y="2207" font-size="45" style="font-family:'Liberation Sans','DejaVu Sans',sans-serif;font-weight:bold;fill:#000;font-style:italic;fill:#005ce6" textLength="195.83" lengthAdjust="spacingAndGlyphs">Black Sea</text>
<text x="1185.94" y="371.3" font-size="36" style="font-family:'Liberation Sans','DejaVu Sans',sans-serif;font-weight:bold;fill:#000" textLength="193.48" lengthAdjust="spacingAndGlyphs">Northwest</text>
<text x="1217.96" y="421.4" font-size="36" style="font-family:'Liberation Sans','DejaVu Sans',sans-serif;font-weight:bold;fill:#000" textLength="129.45" lengthAdjust="spacingAndGlyphs">District</text>
<text x="1343.96" y="1004" font-size="36" style="font-family:'Liberation Sans','DejaVu Sans',sans-serif;font-weight:bold;fill:#000" textLength="131.14" lengthAdjust="spacingAndGlyphs">Central</text>
<text x="1343.96" y="1053.2" font-size="36" style="font-family:'Liberation Sans','DejaVu Sans',sans-serif;font-weight:bold;fill:#000" textLength="129.96" lengthAdjust="spacingAndGlyphs">District</text>
<text x="2299.79" y="936" font-size="36" style="font-family:'Liberation Sans','DejaVu Sans',sans-serif;font-weight:bold;fill:#000" textLength="96.41" lengthAdjust="spacingAndGlyphs">Volga</text>
<text x="2281.96" y="987" font-size="36" style="font-family:'Liberation Sans','DejaVu Sans',sans-serif;font-weight:bold;fill:#000" textLength="129.54" lengthAdjust="spacingAndGlyphs">District</text>
<text x="1779.98" y="1689.4" font-size="36" style="font-family:'Liberation Sans','DejaVu Sans',sans-serif;font-weight:bold;fill:#000" textLength="167.38" lengthAdjust="spacingAndGlyphs">Southern</text>
<text x="1796.96" y="1739.6" font-size="36" style="font-family:'Liberation Sans','DejaVu Sans',sans-serif;font-weight:bold;fill:#000" textLength="129.54" lengthAdjust="spacingAndGlyphs">District</text>
<text x="1772.76" y="2135" font-size="36" style="font-family:'Liberation Sans','DejaVu Sans',sans-serif;font-weight:bold;fill:#000" textLength="277.06" lengthAdjust="spacingAndGlyphs">North Caucasus</text>
<text x="1846.55" y="2186.5" font-size="36" style="font-family:'Liberation Sans','DejaVu Sans',sans-serif;font-weight:bold;fill:#000" textLength="129.56" lengthAdjust="spacingAndGlyphs">District</text>
</g>
<rect x="2778.1" y="470.3" width="72.9" height="145.6" fill="#CD0000" stroke="#6e6e6e" stroke-width="3.8"/>
<rect x="2778.1" y="615.9" width="72.9" height="146.5" fill="#FF0000" stroke="#6e6e6e" stroke-width="3.8"/>
<rect x="2778.1" y="762.4" width="72.9" height="146.5" fill="#FF5555" stroke="#6e6e6e" stroke-width="3.8"/>
<rect x="2778.1" y="908.8" width="72.9" height="146.5" fill="#FFAAAA" stroke="#6e6e6e" stroke-width="3.8"/>
<rect x="2778.1" y="1055.3" width="72.9" height="146.5" fill="#FFD7D7" stroke="#6e6e6e" stroke-width="3.8"/>
<rect x="2778.1" y="1201.8" width="72.9" height="146.5" fill="#FFFFFF" stroke="#6e6e6e" stroke-width="3.8"/>
<rect x="2778.1" y="1348.2" width="72.9" height="146.5" fill="#CDFFFF" stroke="#6e6e6e" stroke-width="3.8"/>
<rect x="2778.1" y="1494.7" width="72.9" height="146.5" fill="#69FFFF" stroke="#6e6e6e" stroke-width="3.8"/>
<rect x="2778.1" y="1641.2" width="72.9" height="146.5" fill="#55AAFF" stroke="#6e6e6e" stroke-width="3.8"/>
<rect x="2778.1" y="1787.7" width="72.9" height="146.5" fill="#0080FF" stroke="#6e6e6e" stroke-width="3.8"/>
<rect x="2778.1" y="1934.1" width="72.9" height="145.5" fill="#0000FF" stroke="#6e6e6e" stroke-width="3.8"/>
<rect x="2778.1" y="470.3" width="72.9" height="1609.3" fill="none" stroke="#6e6e6e" stroke-width="3.8" stroke-linejoin="round"/>
<text x="2877.6" y="644.7" font-size="52.5" style="font-family:'Liberation Sans',sans-serif;fill:#000">+9</text>
<text x="2877.6" y="791.2" font-size="52.5" style="font-family:'Liberation Sans',sans-serif;fill:#000">+7</text>
<text x="2877.6" y="937.6" font-size="52.5" style="font-family:'Liberation Sans',sans-serif;fill:#000">+5</text>
<text x="2877.6" y="1084.1" font-size="52.5" style="font-family:'Liberation Sans',sans-serif;fill:#000">+3</text>
<text x="2877.6" y="1230.6" font-size="52.5" style="font-family:'Liberation Sans',sans-serif;fill:#000">+1</text>
<text x="2877.6" y="1377.0" font-size="52.5" style="font-family:'Liberation Sans',sans-serif;fill:#000">-1</text>
<text x="2877.6" y="1523.5" font-size="52.5" style="font-family:'Liberation Sans',sans-serif;fill:#000">-3</text>
<text x="2877.6" y="1670.0" font-size="52.5" style="font-family:'Liberation Sans',sans-serif;fill:#000">-5</text>
<text x="2877.6" y="1816.5" font-size="52.5" style="font-family:'Liberation Sans',sans-serif;fill:#000">-7</text>
<text x="2877.6" y="1962.9" font-size="52.5" style="font-family:'Liberation Sans',sans-serif;fill:#000">-9</text>
<defs><clipPath id="lg"><circle cx="2832.0" cy="2390.5" r="119.0"/></clipPath>
<path id="arcT" d="M2714.8,2430.9 A124.0,124.0 0 1 1 2949.2,2430.9"/>
<path id="arcB" d="M2707.7,2453.8 A139.5,139.5 0 0 0 2956.3,2453.8"/>
</defs>
<circle cx="2832.0" cy="2390.5" r="120.5" fill="#fff" stroke="#dfe6f5" stroke-width="1"/>
<g clip-path="url(#lg)">
<rect x="2711.0" y="2269.5" width="242.0" height="242.0" fill="#fff"/>
<polygon points="2697.0,2357.3 2714.0,2357.3 2731.0,2365.8 2748.0,2381.1 2761.6,2393.0 2775.2,2403.2 2790.5,2410.9 2809.2,2416.0 2829.6,2418.2 2816.0,2424.5 2802.4,2430.5 2792.2,2434.2 2799.0,2438.3 2822.0,2438.6 2836.4,2433.0 2858.6,2422.8 2883.2,2412.1 2883.2,2409.2 2857.7,2408.9 2875.6,2396.4 2901.1,2374.3 2921.5,2353.9 2936.8,2339.5 2969.1,2339.5 2969.1,2529.1 2697.0,2529.1" fill="#0099ff"/>
<polygon points="2737.8,2317.4 2697.0,2257.0 2969.1,2257.0 2923.2,2317.4 2890.9,2359.0 2873.9,2381.1 2856.9,2400.7 2843.2,2410.0 2833.9,2410.9 2822.8,2407.5 2809.2,2396.4 2792.2,2377.7 2775.2,2359.0 2756.5,2337.8" fill="#0014aa"/>
</g>
<text x="2781.2" y="2348.8" font-size="45" textLength="94.5" lengthAdjust="spacingAndGlyphs" style="font-family:'Liberation Sans',sans-serif;font-weight:bold;fill:#fff">NOAA</text>
<text font-size="20" style="font-family:'Liberation Sans',sans-serif;font-weight:bold;fill:#8f8f99"><textPath href="#arcT" startOffset="0" textLength="472" lengthAdjust="spacingAndGlyphs">NATIONAL OCEANIC AND ATMOSPHERIC ADMINISTRATION</textPath></text>
<text font-size="20" style="font-family:'Liberation Sans',sans-serif;font-weight:bold;fill:#8f8f99"><textPath href="#arcB" startOffset="0" textLength="307" lengthAdjust="spacingAndGlyphs">U.S. DEPARTMENT OF COMMERCE</textPath></text>
</svg>
<div class="t" style="top:42.7px;left:2.2px">WESTERN FSU</div>
<div class="t" style="top:124.7px;left:15.2px">Temperature Anomaly (°C)</div>
<div class="t" style="top:208.7px;left:1.8px">December 8 - 14, 2019</div>
<div class="f" style="top:2240.3px">CLIMATE PREDICTION CENTER, NOAA</div>
<div class="f" style="top:2278.1px">Computer generated contours</div>
<div class="f" style="top:2316.6px">Based on preliminary gridded data</div>
<div class="f" style="top:2354.6px">Normals based on 1981-2010 gridded data</div>
</body></html>
